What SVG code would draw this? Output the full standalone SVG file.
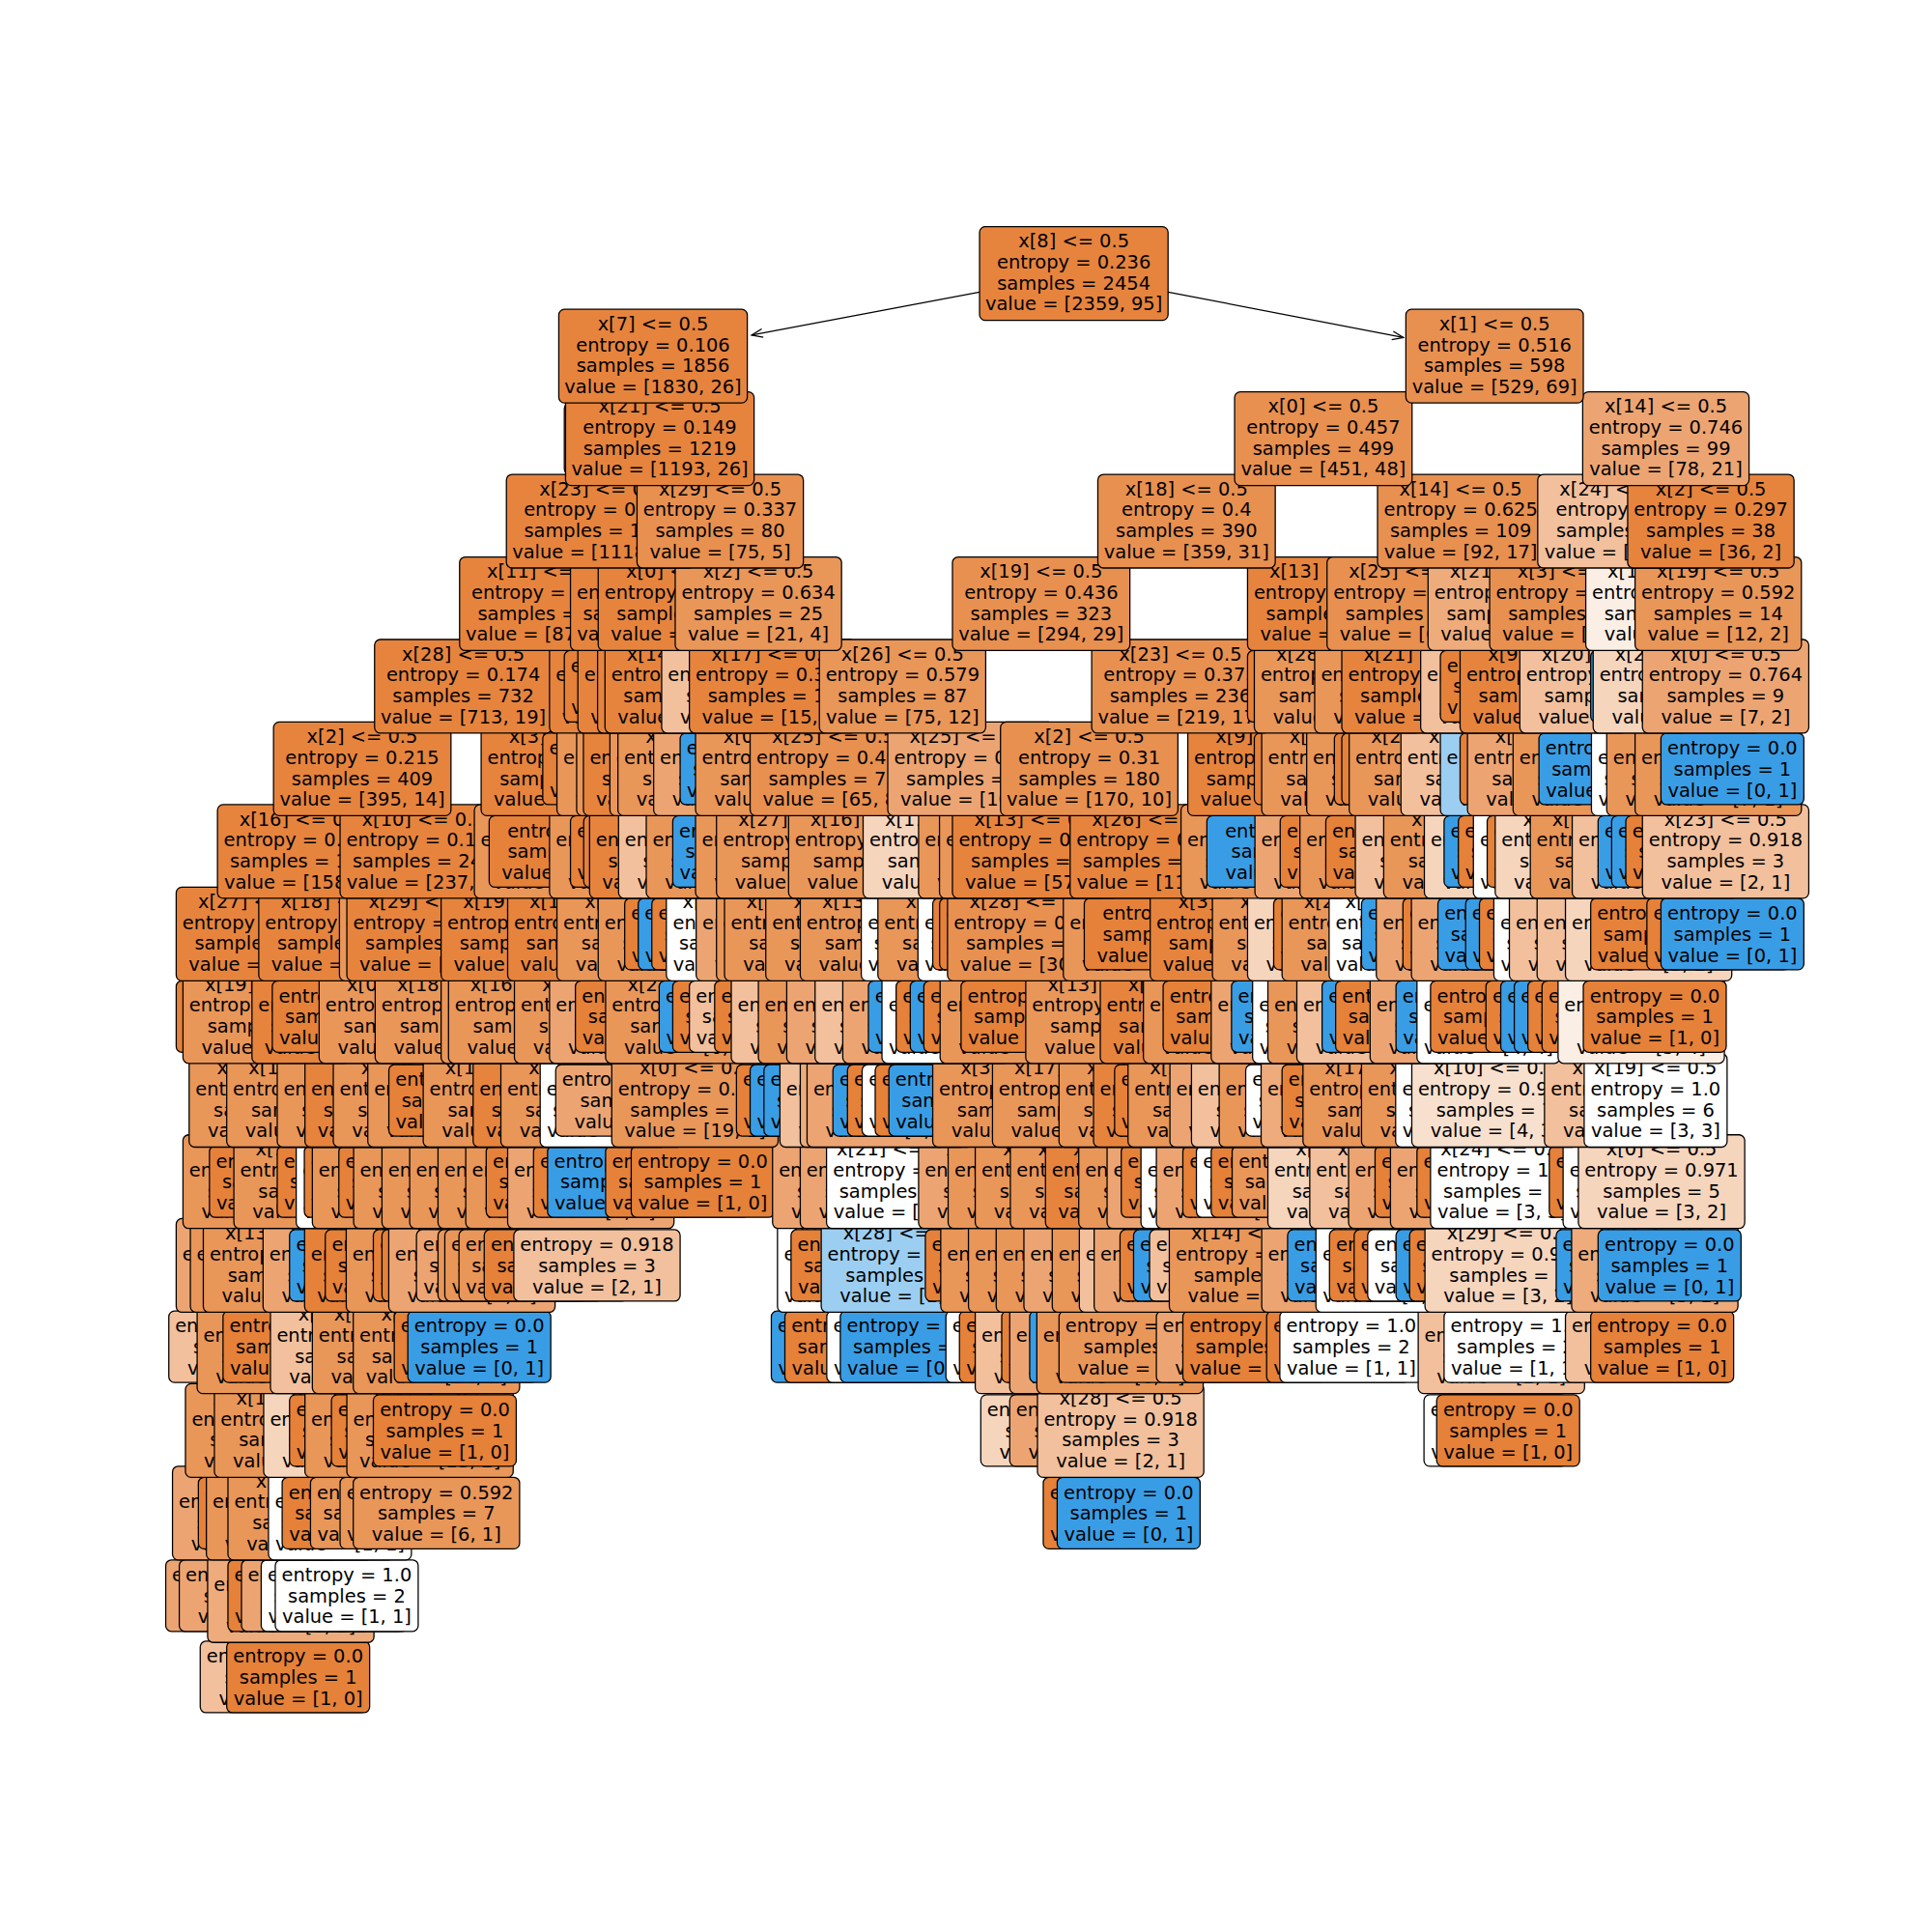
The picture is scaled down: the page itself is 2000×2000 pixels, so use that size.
<svg xmlns="http://www.w3.org/2000/svg" width="2000" height="2000" viewBox="0 0 2000 2000">
<style>
text{fill:#000;font-family:"DejaVu Sans",sans-serif;font-size:15.24px;text-anchor:middle}
rect{stroke:#000;stroke-width:1}
.o{fill:#e58139}.n{fill:#e6843e}.m{fill:#e89050}.q{fill:#e99659}.r{fill:#eca572}.s{fill:#eeab7b}.t{fill:#f2c09c}.u{fill:#f6d5bd}.v{fill:#f8e0ce}.z{fill:#fbeee4}.w{fill:#fff}.x{fill:#399de5}.y{fill:#9ccef2}
.c{fill:none;stroke:#000;stroke-width:1}
</style>
<defs>
<rect id="A" x="-67.5" y="-38" width="135" height="76" rx="4.6"/>
<rect id="B" x="-58" y="-29" width="116" height="58" rx="4.6"/>
<rect id="C" x="-67.5" y="-29" width="135" height="58" rx="4.6"/>
<rect id="D" x="-72" y="-38" width="144" height="76" rx="4.6"/>
<rect id="E" x="-76.5" y="-38" width="153" height="76" rx="4.6"/>
<rect id="G" x="-58" y="-38" width="116" height="76" rx="4.6"/>
<rect id="H" x="-72" y="-29" width="144" height="58" rx="4.6"/>
<marker id="h" markerWidth="12" markerHeight="10" refX="10" refY="4" orient="auto" markerUnits="userSpaceOnUse"><path d="M1 0.5L10 4L1 7.5" class="c"/></marker>
</defs>
<g transform="scale(1.27551)">
<g id="row17" transform="translate(0,1361)">
<g id="n17a" class="t" transform="translate(230)"><use href="#C"/><text y="-11.5">entropy = 0.918</text><text y="5.5">samples = 3</text><text y="22.5">value = [2, 1]</text></g>
<g id="n17b" class="o" transform="translate(242)"><use href="#B"/><text y="-11.5">entropy = 0.0</text><text y="5.5">samples = 1</text><text y="22.5">value = [1, 0]</text></g>
</g>
<g id="row16" transform="translate(0,1295)">
<g id="n16a" class="r" transform="translate(202)"><use href="#C"/><text y="-11.5">entropy = 0.764</text><text y="5.5">samples = 9</text><text y="22.5">value = [7, 2]</text></g>
<g id="n16b" class="r" transform="translate(213)"><use href="#C"/><text y="-11.5">entropy = 0.764</text><text y="5.5">samples = 9</text><text y="22.5">value = [7, 2]</text></g>
<g id="n16c" class="s" transform="translate(236)"><use href="#A"/><text y="-21">x[4] &lt;= 0.5</text><text y="-4">entropy = 0.811</text><text y="13">samples = 8</text><text y="30">value = [6, 2]</text></g>
<g id="n16d" class="o" transform="translate(243)"><use href="#B"/><text y="-11.5">entropy = 0.0</text><text y="5.5">samples = 1</text><text y="22.5">value = [1, 0]</text></g>
<g id="n16e" class="r" transform="translate(263.5)"><use href="#C"/><text y="-11.5">entropy = 0.764</text><text y="5.5">samples = 9</text><text y="22.5">value = [7, 2]</text></g>
<g id="n16f" class="w" transform="translate(270)"><use href="#B"/><text y="-11.5">entropy = 1.0</text><text y="5.5">samples = 2</text><text y="22.5">value = [1, 1]</text></g>
<g id="n16g" class="w" transform="translate(281.4)"><use href="#B"/><text y="-11.5">entropy = 1.0</text><text y="5.5">samples = 2</text><text y="22.5">value = [1, 1]</text></g>
</g>
<g id="row15" transform="translate(0,1228)">
<g id="n15a" class="r" transform="translate(207.5)"><use href="#A"/><text y="-21">x[5] &lt;= 0.5</text><text y="-4">entropy = 0.764</text><text y="13">samples = 9</text><text y="30">value = [7, 2]</text></g>
<g id="n15b" class="o" transform="translate(219)"><use href="#B"/><text y="-11.5">entropy = 0.0</text><text y="5.5">samples = 1</text><text y="22.5">value = [1, 0]</text></g>
<g id="n15c" class="q" transform="translate(235)"><use href="#A"/><text y="-21">x[6] &lt;= 0.5</text><text y="-4">entropy = 0.592</text><text y="13">samples = 7</text><text y="30">value = [6, 1]</text></g>
<g id="n15d" class="q" transform="translate(252.5)"><use href="#A"/><text y="-21">x[9] &lt;= 0.5</text><text y="-4">entropy = 0.592</text><text y="13">samples = 7</text><text y="30">value = [6, 1]</text></g>
<g id="n15e" class="w" transform="translate(275.9)"><use href="#G"/><text y="-21">x[3] &lt;= 0.5</text><text y="-4">entropy = 1.0</text><text y="13">samples = 2</text><text y="30">value = [1, 1]</text></g>
<g id="n15f" class="o" transform="translate(287)"><use href="#B"/><text y="-11.5">entropy = 0.0</text><text y="5.5">samples = 1</text><text y="22.5">value = [1, 0]</text></g>
<g id="n15g" class="q" transform="translate(310)"><use href="#B"/><text y="-11.5">entropy = 0.0</text><text y="5.5">samples = 1</text><text y="22.5">value = [1, 0]</text></g>
<g id="n15h" class="q" transform="translate(334)"><use href="#B"/><text y="-11.5">entropy = 0.0</text><text y="5.5">samples = 1</text><text y="22.5">value = [1, 0]</text></g>
<g id="n15i" class="q" transform="translate(354.2)"><use href="#C"/><text y="-11.5">entropy = 0.592</text><text y="5.5">samples = 7</text><text y="22.5">value = [6, 1]</text></g>
<g id="n15j" class="o" transform="translate(904.7)"><use href="#B"/><text y="-11.5">entropy = 0.0</text><text y="5.5">samples = 1</text><text y="22.5">value = [1, 0]</text></g>
<g id="n15k" class="x" transform="translate(916)"><use href="#B"/><text y="-11.5">entropy = 0.0</text><text y="5.5">samples = 1</text><text y="22.5">value = [0, 1]</text></g>
</g>
<g id="row14" transform="translate(0,1161)">
<g id="n14a" class="q" transform="translate(218)"><use href="#A"/><text y="-21">x[2] &lt;= 0.5</text><text y="-4">entropy = 0.592</text><text y="13">samples = 7</text><text y="30">value = [6, 1]</text></g>
<g id="n14b" class="q" transform="translate(241.5)"><use href="#A"/><text y="-21">x[12] &lt;= 0.5</text><text y="-4">entropy = 0.592</text><text y="13">samples = 7</text><text y="30">value = [6, 1]</text></g>
<g id="n14c" class="u" transform="translate(281.5)"><use href="#A"/><text y="-21">x[7] &lt;= 0.5</text><text y="-4">entropy = 0.971</text><text y="13">samples = 5</text><text y="30">value = [3, 2]</text></g>
<g id="n14d" class="o" transform="translate(293)"><use href="#B"/><text y="-11.5">entropy = 0.0</text><text y="5.5">samples = 1</text><text y="22.5">value = [1, 0]</text></g>
<g id="n14e" class="q" transform="translate(315)"><use href="#A"/><text y="-21">x[3] &lt;= 0.5</text><text y="-4">entropy = 0.592</text><text y="13">samples = 7</text><text y="30">value = [6, 1]</text></g>
<g id="n14f" class="o" transform="translate(327)"><use href="#B"/><text y="-11.5">entropy = 0.0</text><text y="5.5">samples = 1</text><text y="22.5">value = [1, 0]</text></g>
<g id="n14g" class="q" transform="translate(349)"><use href="#A"/><text y="-21">x[4] &lt;= 0.5</text><text y="-4">entropy = 0.567</text><text y="13">samples = 15</text><text y="30">value = [13, 2]</text></g>
<g id="n14h" class="o" transform="translate(361)"><use href="#B"/><text y="-11.5">entropy = 0.0</text><text y="5.5">samples = 1</text><text y="22.5">value = [1, 0]</text></g>
<g id="n14i" class="u" transform="translate(863.5)"><use href="#C"/><text y="-11.5">entropy = 0.971</text><text y="5.5">samples = 5</text><text y="22.5">value = [3, 2]</text></g>
<g id="n14j" class="r" transform="translate(887)"><use href="#C"/><text y="-11.5">entropy = 0.764</text><text y="5.5">samples = 9</text><text y="22.5">value = [7, 2]</text></g>
<g id="n14k" class="t" transform="translate(909.5)"><use href="#A"/><text y="-21">x[28] &lt;= 0.5</text><text y="-4">entropy = 0.918</text><text y="13">samples = 3</text><text y="30">value = [2, 1]</text></g>
<g id="n14l" class="w" transform="translate(1213.7)"><use href="#B"/><text y="-11.5">entropy = 1.0</text><text y="5.5">samples = 2</text><text y="22.5">value = [1, 1]</text></g>
<g id="n14m" class="o" transform="translate(1224)"><use href="#B"/><text y="-11.5">entropy = 0.0</text><text y="5.5">samples = 1</text><text y="22.5">value = [1, 0]</text></g>
</g>
<g id="row13" transform="translate(0,1093)">
<g id="n13a" class="t" transform="translate(204.5)"><use href="#C"/><text y="-11.5">entropy = 0.918</text><text y="5.5">samples = 3</text><text y="22.5">value = [2, 1]</text></g>
<g id="n13b" class="q" transform="translate(227.5)"><use href="#A"/><text y="-21">x[6] &lt;= 0.5</text><text y="-4">entropy = 0.592</text><text y="13">samples = 7</text><text y="30">value = [6, 1]</text></g>
<g id="n13c" class="o" transform="translate(239)"><use href="#B"/><text y="-11.5">entropy = 0.0</text><text y="5.5">samples = 1</text><text y="22.5">value = [1, 0]</text></g>
<g id="n13d" class="t" transform="translate(287)"><use href="#A"/><text y="-21">x[9] &lt;= 0.5</text><text y="-4">entropy = 0.918</text><text y="13">samples = 3</text><text y="30">value = [2, 1]</text></g>
<g id="n13e" class="q" transform="translate(321)"><use href="#A"/><text y="-21">x[11] &lt;= 0.5</text><text y="-4">entropy = 0.592</text><text y="13">samples = 7</text><text y="30">value = [6, 1]</text></g>
<g id="n13f" class="q" transform="translate(354.2)"><use href="#A"/><text y="-21">x[5] &lt;= 0.5</text><text y="-4">entropy = 0.353</text><text y="13">samples = 15</text><text y="30">value = [14, 1]</text></g>
<g id="n13g" class="o" transform="translate(378)"><use href="#B"/><text y="-11.5">entropy = 0.0</text><text y="5.5">samples = 1</text><text y="22.5">value = [1, 0]</text></g>
<g id="n13h" class="x" transform="translate(389)"><use href="#B"/><text y="-11.5">entropy = 0.0</text><text y="5.5">samples = 1</text><text y="22.5">value = [0, 1]</text></g>
<g id="n13i" class="x" transform="translate(684)"><use href="#B"/><text y="-11.5">entropy = 0.0</text><text y="5.5">samples = 1</text><text y="22.5">value = [0, 1]</text></g>
<g id="n13j" class="o" transform="translate(695)"><use href="#B"/><text y="-11.5">entropy = 0.0</text><text y="5.5">samples = 1</text><text y="22.5">value = [1, 0]</text></g>
<g id="n13k" class="w" transform="translate(729)"><use href="#B"/><text y="-11.5">entropy = 1.0</text><text y="5.5">samples = 2</text><text y="22.5">value = [1, 1]</text></g>
<g id="n13l" class="x" transform="translate(740)"><use href="#B"/><text y="-11.5">entropy = 0.0</text><text y="5.5">samples = 1</text><text y="22.5">value = [0, 1]</text></g>
<g id="n13m" class="w" transform="translate(825.7)"><use href="#B"/><text y="-11.5">entropy = 1.0</text><text y="5.5">samples = 2</text><text y="22.5">value = [1, 1]</text></g>
<g id="n13n" class="o" transform="translate(836.7)"><use href="#B"/><text y="-11.5">entropy = 0.0</text><text y="5.5">samples = 1</text><text y="22.5">value = [1, 0]</text></g>
<g id="n13o" class="t" transform="translate(859)"><use href="#A"/><text y="-21">x[1] &lt;= 0.5</text><text y="-4">entropy = 0.918</text><text y="13">samples = 3</text><text y="30">value = [2, 1]</text></g>
<g id="n13p" class="o" transform="translate(871)"><use href="#B"/><text y="-11.5">entropy = 0.0</text><text y="5.5">samples = 1</text><text y="22.5">value = [1, 0]</text></g>
<g id="n13q" class="r" transform="translate(887)"><use href="#A"/><text y="-21">x[2] &lt;= 0.5</text><text y="-4">entropy = 0.764</text><text y="13">samples = 9</text><text y="30">value = [7, 2]</text></g>
<g id="n13r" class="x" transform="translate(893.7)"><use href="#B"/><text y="-11.5">entropy = 0.0</text><text y="5.5">samples = 1</text><text y="22.5">value = [0, 1]</text></g>
<g id="n13s" class="q" transform="translate(909)"><use href="#A"/><text y="-21">x[3] &lt;= 0.5</text><text y="-4">entropy = 0.592</text><text y="13">samples = 7</text><text y="30">value = [6, 1]</text></g>
<g id="n13t" class="q" transform="translate(927)"><use href="#C"/><text y="-11.5">entropy = 0.592</text><text y="5.5">samples = 7</text><text y="22.5">value = [6, 1]</text></g>
<g id="n13u" class="r" transform="translate(1006)"><use href="#C"/><text y="-11.5">entropy = 0.764</text><text y="5.5">samples = 9</text><text y="22.5">value = [7, 2]</text></g>
<g id="n13v" class="o" transform="translate(1018)"><use href="#B"/><text y="-11.5">entropy = 0.0</text><text y="5.5">samples = 1</text><text y="22.5">value = [1, 0]</text></g>
<g id="n13w" class="o" transform="translate(1086)"><use href="#B"/><text y="-11.5">entropy = 0.0</text><text y="5.5">samples = 1</text><text y="22.5">value = [1, 0]</text></g>
<g id="n13x" class="w" transform="translate(1096.7)"><use href="#B"/><text y="-11.5">entropy = 1.0</text><text y="5.5">samples = 2</text><text y="22.5">value = [1, 1]</text></g>
<g id="n13y" class="t" transform="translate(1218.5)"><use href="#A"/><text y="-21">x[8] &lt;= 0.5</text><text y="-4">entropy = 0.918</text><text y="13">samples = 3</text><text y="30">value = [2, 1]</text></g>
<g id="n13z" class="w" transform="translate(1230)"><use href="#B"/><text y="-11.5">entropy = 1.0</text><text y="5.5">samples = 2</text><text y="22.5">value = [1, 1]</text></g>
<g id="n13aa" class="t" transform="translate(1338)"><use href="#C"/><text y="-11.5">entropy = 0.918</text><text y="5.5">samples = 3</text><text y="22.5">value = [2, 1]</text></g>
<g id="n13ab" class="o" transform="translate(1349)"><use href="#B"/><text y="-11.5">entropy = 0.0</text><text y="5.5">samples = 1</text><text y="22.5">value = [1, 0]</text></g>
</g>
<g id="row12" transform="translate(0,1027)">
<g id="n12a" class="r" transform="translate(210.5)"><use href="#A"/><text y="-21">x[3] &lt;= 0.5</text><text y="-4">entropy = 0.764</text><text y="13">samples = 9</text><text y="30">value = [7, 2]</text></g>
<g id="n12b" class="q" transform="translate(222)"><use href="#A"/><text y="-21">x[6] &lt;= 0.5</text><text y="-4">entropy = 0.592</text><text y="13">samples = 7</text><text y="30">value = [6, 1]</text></g>
<g id="n12c" class="q" transform="translate(232.5)"><use href="#A"/><text y="-21">x[13] &lt;= 0.5</text><text y="-4">entropy = 0.592</text><text y="13">samples = 7</text><text y="30">value = [6, 1]</text></g>
<g id="n12d" class="r" transform="translate(281)"><use href="#A"/><text y="-21">x[4] &lt;= 0.5</text><text y="-4">entropy = 0.764</text><text y="13">samples = 9</text><text y="30">value = [7, 2]</text></g>
<g id="n12e" class="x" transform="translate(293)"><use href="#B"/><text y="-11.5">entropy = 0.0</text><text y="5.5">samples = 1</text><text y="22.5">value = [0, 1]</text></g>
<g id="n12f" class="o" transform="translate(314.7)"><use href="#A"/><text y="-21">x[2] &lt;= 0.5</text><text y="-4">entropy = 0.337</text><text y="13">samples = 16</text><text y="30">value = [15, 1]</text></g>
<g id="n12g" class="o" transform="translate(322)"><use href="#B"/><text y="-11.5">entropy = 0.0</text><text y="5.5">samples = 1</text><text y="22.5">value = [1, 0]</text></g>
<g id="n12h" class="q" transform="translate(348.5)"><use href="#A"/><text y="-21">x[7] &lt;= 0.5</text><text y="-4">entropy = 0.592</text><text y="13">samples = 7</text><text y="30">value = [6, 1]</text></g>
<g id="n12i" class="o" transform="translate(361)"><use href="#B"/><text y="-11.5">entropy = 0.0</text><text y="5.5">samples = 1</text><text y="22.5">value = [1, 0]</text></g>
<g id="n12j" class="o" transform="translate(368)"><use href="#B"/><text y="-11.5">entropy = 0.0</text><text y="5.5">samples = 1</text><text y="22.5">value = [1, 0]</text></g>
<g id="n12k" class="r" transform="translate(383)"><use href="#A"/><text y="-21">x[9] &lt;= 0.5</text><text y="-4">entropy = 0.544</text><text y="13">samples = 8</text><text y="30">value = [7, 1]</text></g>
<g id="n12l" class="r" transform="translate(396)"><use href="#B"/><text y="-11.5">entropy = 0.0</text><text y="5.5">samples = 1</text><text y="22.5">value = [1, 0]</text></g>
<g id="n12m" class="q" transform="translate(413.5)"><use href="#B"/><text y="-11.5">entropy = 0.0</text><text y="5.5">samples = 1</text><text y="22.5">value = [1, 0]</text></g>
<g id="n12n" class="q" transform="translate(419)"><use href="#B"/><text y="-11.5">entropy = 0.0</text><text y="5.5">samples = 1</text><text y="22.5">value = [1, 0]</text></g>
<g id="n12o" class="q" transform="translate(430.5)"><use href="#B"/><text y="-11.5">entropy = 0.0</text><text y="5.5">samples = 1</text><text y="22.5">value = [1, 0]</text></g>
<g id="n12p" class="o" transform="translate(451)"><use href="#B"/><text y="-11.5">entropy = 0.0</text><text y="5.5">samples = 1</text><text y="22.5">value = [1, 0]</text></g>
<g id="n12q" class="t" transform="translate(484.5)"><use href="#C"/><text y="-11.5">entropy = 0.918</text><text y="5.5">samples = 3</text><text y="22.5">value = [2, 1]</text></g>
<g id="n12r" class="w" transform="translate(689)"><use href="#G"/><text y="-21">x[5] &lt;= 0.5</text><text y="-4">entropy = 1.0</text><text y="13">samples = 2</text><text y="30">value = [1, 1]</text></g>
<g id="n12s" class="o" transform="translate(700)"><use href="#B"/><text y="-11.5">entropy = 0.0</text><text y="5.5">samples = 1</text><text y="22.5">value = [1, 0]</text></g>
<g id="n12t" class="y" transform="translate(734)"><use href="#A"/><text y="-21">x[28] &lt;= 0.5</text><text y="-4">entropy = 0.918</text><text y="13">samples = 3</text><text y="30">value = [1, 2]</text></g>
<g id="n12u" class="o" transform="translate(809)"><use href="#B"/><text y="-11.5">entropy = 0.0</text><text y="5.5">samples = 1</text><text y="22.5">value = [1, 0]</text></g>
<g id="n12v" class="q" transform="translate(831)"><use href="#A"/><text y="-21">x[2] &lt;= 0.5</text><text y="-4">entropy = 0.592</text><text y="13">samples = 7</text><text y="30">value = [6, 1]</text></g>
<g id="n12w" class="q" transform="translate(853.5)"><use href="#A"/><text y="-21">x[3] &lt;= 0.5</text><text y="-4">entropy = 0.592</text><text y="13">samples = 7</text><text y="30">value = [6, 1]</text></g>
<g id="n12x" class="q" transform="translate(876)"><use href="#A"/><text y="-21">x[4] &lt;= 0.5</text><text y="-4">entropy = 0.592</text><text y="13">samples = 7</text><text y="30">value = [6, 1]</text></g>
<g id="n12y" class="r" transform="translate(898.5)"><use href="#A"/><text y="-21">x[5] &lt;= 0.5</text><text y="-4">entropy = 0.764</text><text y="13">samples = 9</text><text y="30">value = [7, 2]</text></g>
<g id="n12z" class="q" transform="translate(921.5)"><use href="#A"/><text y="-21">x[6] &lt;= 0.5</text><text y="-4">entropy = 0.592</text><text y="13">samples = 7</text><text y="30">value = [6, 1]</text></g>
<g id="n12aa" class="t" transform="translate(943.5)"><use href="#A"/><text y="-21">x[7] &lt;= 0.5</text><text y="-4">entropy = 0.918</text><text y="13">samples = 3</text><text y="30">value = [2, 1]</text></g>
<g id="n12ab" class="r" transform="translate(955.5)"><use href="#A"/><text y="-21">x[9] &lt;= 0.5</text><text y="-4">entropy = 0.764</text><text y="13">samples = 9</text><text y="30">value = [7, 2]</text></g>
<g id="n12ac" class="o" transform="translate(967)"><use href="#B"/><text y="-11.5">entropy = 0.0</text><text y="5.5">samples = 1</text><text y="22.5">value = [1, 0]</text></g>
<g id="n12ad" class="x" transform="translate(978)"><use href="#B"/><text y="-11.5">entropy = 0.0</text><text y="5.5">samples = 1</text><text y="22.5">value = [0, 1]</text></g>
<g id="n12ae" class="t" transform="translate(991)"><use href="#B"/><text y="-11.5">entropy = 0.0</text><text y="5.5">samples = 3</text><text y="22.5">value = [2, 1]</text></g>
<g id="n12af" class="q" transform="translate(1016.5)"><use href="#A"/><text y="-21">x[14] &lt;= 0.5</text><text y="-4">entropy = 0.592</text><text y="13">samples = 7</text><text y="30">value = [6, 1]</text></g>
<g id="n12ag" class="r" transform="translate(1091.5)"><use href="#A"/><text y="-21">x[1] &lt;= 0.5</text><text y="-4">entropy = 0.764</text><text y="13">samples = 9</text><text y="30">value = [7, 2]</text></g>
<g id="n12ah" class="x" transform="translate(1103)"><use href="#B"/><text y="-11.5">entropy = 0.0</text><text y="5.5">samples = 1</text><text y="22.5">value = [0, 1]</text></g>
<g id="n12ai" class="w" transform="translate(1126)"><use href="#G"/><text y="-21">x[4] &lt;= 0.5</text><text y="-4">entropy = 1.0</text><text y="13">samples = 2</text><text y="30">value = [1, 1]</text></g>
<g id="n12aj" class="o" transform="translate(1137)"><use href="#B"/><text y="-11.5">entropy = 0.0</text><text y="5.5">samples = 1</text><text y="22.5">value = [1, 0]</text></g>
<g id="n12ak" class="o" transform="translate(1157)"><use href="#B"/><text y="-11.5">entropy = 0.0</text><text y="5.5">samples = 1</text><text y="22.5">value = [1, 0]</text></g>
<g id="n12al" class="w" transform="translate(1168)"><use href="#B"/><text y="-11.5">entropy = 1.0</text><text y="5.5">samples = 2</text><text y="22.5">value = [1, 1]</text></g>
<g id="n12am" class="x" transform="translate(1191)"><use href="#B"/><text y="-11.5">entropy = 0.0</text><text y="5.5">samples = 1</text><text y="22.5">value = [0, 1]</text></g>
<g id="n12an" class="o" transform="translate(1202)"><use href="#B"/><text y="-11.5">entropy = 0.0</text><text y="5.5">samples = 1</text><text y="22.5">value = [1, 0]</text></g>
<g id="n12ao" class="u" transform="translate(1224)"><use href="#A"/><text y="-21">x[29] &lt;= 0.5</text><text y="-4">entropy = 0.971</text><text y="13">samples = 5</text><text y="30">value = [3, 2]</text></g>
<g id="n12ap" class="x" transform="translate(1321)"><use href="#B"/><text y="-11.5">entropy = 0.0</text><text y="5.5">samples = 1</text><text y="22.5">value = [0, 1]</text></g>
<g id="n12aq" class="s" transform="translate(1343)"><use href="#A"/><text y="-21">x[1] &lt;= 0.5</text><text y="-4">entropy = 0.811</text><text y="13">samples = 4</text><text y="30">value = [3, 1]</text></g>
<g id="n12ar" class="x" transform="translate(1355)"><use href="#B"/><text y="-11.5">entropy = 0.0</text><text y="5.5">samples = 1</text><text y="22.5">value = [0, 1]</text></g>
</g>
<g id="row11" transform="translate(0,959)">
<g id="n11a" class="q" transform="translate(216)"><use href="#A"/><text y="-21">x[2] &lt;= 0.5</text><text y="-4">entropy = 0.592</text><text y="13">samples = 7</text><text y="30">value = [6, 1]</text></g>
<g id="n11b" class="o" transform="translate(228)"><use href="#B"/><text y="-11.5">entropy = 0.0</text><text y="5.5">samples = 1</text><text y="22.5">value = [1, 0]</text></g>
<g id="n11c" class="q" transform="translate(257.3)"><use href="#A"/><text y="-21">x[14] &lt;= 0.5</text><text y="-4">entropy = 0.592</text><text y="13">samples = 7</text><text y="30">value = [6, 1]</text></g>
<g id="n11d" class="o" transform="translate(283)"><use href="#B"/><text y="-11.5">entropy = 0.0</text><text y="5.5">samples = 1</text><text y="22.5">value = [1, 0]</text></g>
<g id="n11e" class="w" transform="translate(298.4)"><use href="#G"/><text y="-21">x[6] &lt;= 0.5</text><text y="-4">entropy = 1.0</text><text y="13">samples = 2</text><text y="30">value = [1, 1]</text></g>
<g id="n11f" class="o" transform="translate(305)"><use href="#B"/><text y="-11.5">entropy = 0.0</text><text y="5.5">samples = 1</text><text y="22.5">value = [1, 0]</text></g>
<g id="n11g" class="q" transform="translate(321)"><use href="#A"/><text y="-21">x[4] &lt;= 0.5</text><text y="-4">entropy = 0.592</text><text y="13">samples = 7</text><text y="30">value = [6, 1]</text></g>
<g id="n11h" class="o" transform="translate(333)"><use href="#B"/><text y="-11.5">entropy = 0.0</text><text y="5.5">samples = 1</text><text y="22.5">value = [1, 0]</text></g>
<g id="n11i" class="q" transform="translate(354.5)"><use href="#A"/><text y="-21">x[3] &lt;= 0.5</text><text y="-4">entropy = 0.592</text><text y="13">samples = 7</text><text y="30">value = [6, 1]</text></g>
<g id="n11j" class="q" transform="translate(377.5)"><use href="#A"/><text y="-21">x[5] &lt;= 0.5</text><text y="-4">entropy = 0.592</text><text y="13">samples = 7</text><text y="30">value = [6, 1]</text></g>
<g id="n11k" class="q" transform="translate(400)"><use href="#A"/><text y="-21">x[7] &lt;= 0.5</text><text y="-4">entropy = 0.592</text><text y="13">samples = 7</text><text y="30">value = [6, 1]</text></g>
<g id="n11l" class="q" transform="translate(423)"><use href="#A"/><text y="-21">x[9] &lt;= 0.5</text><text y="-4">entropy = 0.592</text><text y="13">samples = 7</text><text y="30">value = [6, 1]</text></g>
<g id="n11m" class="q" transform="translate(445.5)"><use href="#A"/><text y="-21">x[1] &lt;= 0.5</text><text y="-4">entropy = 0.592</text><text y="13">samples = 7</text><text y="30">value = [6, 1]</text></g>
<g id="n11n" class="o" transform="translate(452.6)"><use href="#B"/><text y="-11.5">entropy = 0.0</text><text y="5.5">samples = 1</text><text y="22.5">value = [1, 0]</text></g>
<g id="n11o" class="r" transform="translate(479.5)"><use href="#A"/><text y="-21">x[3] &lt;= 0.5</text><text y="-4">entropy = 0.764</text><text y="13">samples = 9</text><text y="30">value = [7, 2]</text></g>
<g id="n11p" class="o" transform="translate(491)"><use href="#B"/><text y="-11.5">entropy = 0.0</text><text y="5.5">samples = 1</text><text y="22.5">value = [1, 0]</text></g>
<g id="n11q" class="x" transform="translate(502.4)"><use href="#B"/><text y="-11.5">entropy = 0.0</text><text y="5.5">samples = 1</text><text y="22.5">value = [0, 1]</text></g>
<g id="n11r" class="o" transform="translate(549.5)"><use href="#B"/><text y="-11.5">entropy = 0.0</text><text y="5.5">samples = 1</text><text y="22.5">value = [1, 0]</text></g>
<g id="n11s" class="o" transform="translate(570.3)"><use href="#B"/><text y="-11.5">entropy = 0.0</text><text y="5.5">samples = 1</text><text y="22.5">value = [1, 0]</text></g>
<g id="n11t" class="r" transform="translate(694.5)"><use href="#A"/><text y="-21">x[9] &lt;= 0.5</text><text y="-4">entropy = 0.764</text><text y="13">samples = 9</text><text y="30">value = [7, 2]</text></g>
<g id="n11u" class="r" transform="translate(717)"><use href="#A"/><text y="-21">x[2] &lt;= 0.5</text><text y="-4">entropy = 0.764</text><text y="13">samples = 9</text><text y="30">value = [7, 2]</text></g>
<g id="n11v" class="w" transform="translate(728.8)"><use href="#G"/><text y="-21">x[21] &lt;= 0.5</text><text y="-4">entropy = 1.0</text><text y="13">samples = 4</text><text y="30">value = [2, 2]</text></g>
<g id="n11w" class="r" transform="translate(813)"><use href="#A"/><text y="-21">x[1] &lt;= 0.5</text><text y="-4">entropy = 0.764</text><text y="13">samples = 9</text><text y="30">value = [7, 2]</text></g>
<g id="n11x" class="q" transform="translate(837)"><use href="#A"/><text y="-21">x[3] &lt;= 0.5</text><text y="-4">entropy = 0.592</text><text y="13">samples = 7</text><text y="30">value = [6, 1]</text></g>
<g id="n11y" class="q" transform="translate(859)"><use href="#A"/><text y="-21">x[4] &lt;= 0.5</text><text y="-4">entropy = 0.592</text><text y="13">samples = 7</text><text y="30">value = [6, 1]</text></g>
<g id="n11z" class="q" transform="translate(887.5)"><use href="#A"/><text y="-21">x[5] &lt;= 0.5</text><text y="-4">entropy = 0.592</text><text y="13">samples = 7</text><text y="30">value = [6, 1]</text></g>
<g id="n11aa" class="n" transform="translate(916)"><use href="#A"/><text y="-21">x[6] &lt;= 0.5</text><text y="-4">entropy = 0.337</text><text y="13">samples = 16</text><text y="30">value = [15, 1]</text></g>
<g id="n11ab" class="q" transform="translate(943)"><use href="#A"/><text y="-21">x[7] &lt;= 0.5</text><text y="-4">entropy = 0.592</text><text y="13">samples = 7</text><text y="30">value = [6, 1]</text></g>
<g id="n11ac" class="r" transform="translate(966)"><use href="#A"/><text y="-21">x[9] &lt;= 0.5</text><text y="-4">entropy = 0.764</text><text y="13">samples = 9</text><text y="30">value = [7, 2]</text></g>
<g id="n11ad" class="o" transform="translate(968)"><use href="#B"/><text y="-11.5">entropy = 0.0</text><text y="5.5">samples = 1</text><text y="22.5">value = [1, 0]</text></g>
<g id="n11ae" class="w" transform="translate(984)"><use href="#G"/><text y="-21">x[1] &lt;= 0.5</text><text y="-4">entropy = 1.0</text><text y="13">samples = 2</text><text y="30">value = [1, 1]</text></g>
<g id="n11af" class="r" transform="translate(1006)"><use href="#A"/><text y="-21">x[2] &lt;= 0.5</text><text y="-4">entropy = 0.764</text><text y="13">samples = 9</text><text y="30">value = [7, 2]</text></g>
<g id="n11ag" class="o" transform="translate(1018)"><use href="#B"/><text y="-11.5">entropy = 0.0</text><text y="5.5">samples = 1</text><text y="22.5">value = [1, 0]</text></g>
<g id="n11ah" class="w" transform="translate(1029)"><use href="#B"/><text y="-11.5">entropy = 1.0</text><text y="5.5">samples = 2</text><text y="22.5">value = [1, 1]</text></g>
<g id="n11ai" class="o" transform="translate(1041)"><use href="#B"/><text y="-11.5">entropy = 0.0</text><text y="5.5">samples = 1</text><text y="22.5">value = [1, 0]</text></g>
<g id="n11aj" class="q" transform="translate(1058)"><use href="#B"/><text y="-11.5">entropy = 0.0</text><text y="5.5">samples = 1</text><text y="22.5">value = [1, 0]</text></g>
<g id="n11ak" class="u" transform="translate(1096.5)"><use href="#A"/><text y="-21">x[3] &lt;= 0.5</text><text y="-4">entropy = 0.971</text><text y="13">samples = 5</text><text y="30">value = [3, 2]</text></g>
<g id="n11al" class="t" transform="translate(1130.5)"><use href="#A"/><text y="-21">x[4] &lt;= 0.5</text><text y="-4">entropy = 0.918</text><text y="13">samples = 3</text><text y="30">value = [2, 1]</text></g>
<g id="n11am" class="r" transform="translate(1162)"><use href="#A"/><text y="-21">x[5] &lt;= 0.5</text><text y="-4">entropy = 0.764</text><text y="13">samples = 9</text><text y="30">value = [7, 2]</text></g>
<g id="n11an" class="o" transform="translate(1174)"><use href="#B"/><text y="-11.5">entropy = 0.0</text><text y="5.5">samples = 1</text><text y="22.5">value = [1, 0]</text></g>
<g id="n11ao" class="r" transform="translate(1196)"><use href="#A"/><text y="-21">x[6] &lt;= 0.5</text><text y="-4">entropy = 0.764</text><text y="13">samples = 9</text><text y="30">value = [7, 2]</text></g>
<g id="n11ap" class="o" transform="translate(1208)"><use href="#B"/><text y="-11.5">entropy = 0.0</text><text y="5.5">samples = 1</text><text y="22.5">value = [1, 0]</text></g>
<g id="n11aq" class="w" transform="translate(1219)"><use href="#G"/><text y="-21">x[24] &lt;= 0.5</text><text y="-4">entropy = 1.0</text><text y="13">samples = 6</text><text y="30">value = [3, 3]</text></g>
<g id="n11ar" class="o" transform="translate(1315.4)"><use href="#B"/><text y="-11.5">entropy = 0.0</text><text y="5.5">samples = 1</text><text y="22.5">value = [1, 0]</text></g>
<g id="n11as" class="w" transform="translate(1326.6)"><use href="#G"/><text y="-21">x[7] &lt;= 0.5</text><text y="-4">entropy = 1.0</text><text y="13">samples = 2</text><text y="30">value = [1, 1]</text></g>
<g id="n11at" class="u" transform="translate(1348.5)"><use href="#A"/><text y="-21">x[0] &lt;= 0.5</text><text y="-4">entropy = 0.971</text><text y="13">samples = 5</text><text y="30">value = [3, 2]</text></g>
</g>
<g id="row10" transform="translate(0,893)">
<g id="n10a" class="q" transform="translate(221)"><use href="#A"/><text y="-21">x[4] &lt;= 0.5</text><text y="-4">entropy = 0.592</text><text y="13">samples = 7</text><text y="30">value = [6, 1]</text></g>
<g id="n10b" class="q" transform="translate(251.5)"><use href="#A"/><text y="-21">x[15] &lt;= 0.5</text><text y="-4">entropy = 0.592</text><text y="13">samples = 7</text><text y="30">value = [6, 1]</text></g>
<g id="n10c" class="q" transform="translate(292.5)"><use href="#A"/><text y="-21">x[3] &lt;= 0.5</text><text y="-4">entropy = 0.592</text><text y="13">samples = 7</text><text y="30">value = [6, 1]</text></g>
<g id="n10d" class="n" transform="translate(315)"><use href="#A"/><text y="-21">x[5] &lt;= 0.5</text><text y="-4">entropy = 0.337</text><text y="13">samples = 16</text><text y="30">value = [15, 1]</text></g>
<g id="n10e" class="q" transform="translate(338)"><use href="#A"/><text y="-21">x[6] &lt;= 0.5</text><text y="-4">entropy = 0.592</text><text y="13">samples = 7</text><text y="30">value = [6, 1]</text></g>
<g id="n10f" class="q" transform="translate(366)"><use href="#A"/><text y="-21">x[7] &lt;= 0.5</text><text y="-4">entropy = 0.592</text><text y="13">samples = 7</text><text y="30">value = [6, 1]</text></g>
<g id="n10g" class="o" transform="translate(373.6)"><use href="#B"/><text y="-11.5">entropy = 0.0</text><text y="5.5">samples = 1</text><text y="22.5">value = [1, 0]</text></g>
<g id="n10h" class="q" transform="translate(411)"><use href="#A"/><text y="-21">x[11] &lt;= 0.5</text><text y="-4">entropy = 0.592</text><text y="13">samples = 7</text><text y="30">value = [6, 1]</text></g>
<g id="n10i" class="n" transform="translate(451.5)"><use href="#A"/><text y="-21">x[2] &lt;= 0.5</text><text y="-4">entropy = 0.337</text><text y="13">samples = 16</text><text y="30">value = [15, 1]</text></g>
<g id="n10j" class="q" transform="translate(474)"><use href="#A"/><text y="-21">x[9] &lt;= 0.5</text><text y="-4">entropy = 0.592</text><text y="13">samples = 7</text><text y="30">value = [6, 1]</text></g>
<g id="n10k" class="w" transform="translate(496.4)"><use href="#G"/><text y="-21">x[3] &lt;= 0.5</text><text y="-4">entropy = 1.0</text><text y="13">samples = 2</text><text y="30">value = [1, 1]</text></g>
<g id="n10l" class="r" transform="translate(518.5)"><use href="#C"/><text y="-11.5">entropy = 0.764</text><text y="5.5">samples = 9</text><text y="22.5">value = [7, 2]</text></g>
<g id="n10m" class="q" transform="translate(564)"><use href="#A"/><text y="-21">x[0] &lt;= 0.5</text><text y="-4">entropy = 0.286</text><text y="13">samples = 20</text><text y="30">value = [19, 1]</text></g>
<g id="n10n" class="o" transform="translate(655.7)"><use href="#B"/><text y="-11.5">entropy = 0.0</text><text y="5.5">samples = 1</text><text y="22.5">value = [1, 0]</text></g>
<g id="n10o" class="x" transform="translate(666.8)"><use href="#B"/><text y="-11.5">entropy = 0.0</text><text y="5.5">samples = 1</text><text y="22.5">value = [0, 1]</text></g>
<g id="n10p" class="x" transform="translate(678)"><use href="#B"/><text y="-11.5">entropy = 0.0</text><text y="5.5">samples = 1</text><text y="22.5">value = [0, 1]</text></g>
<g id="n10q" class="t" transform="translate(700.5)"><use href="#A"/><text y="-21">x[1] &lt;= 0.5</text><text y="-4">entropy = 0.918</text><text y="13">samples = 3</text><text y="30">value = [2, 1]</text></g>
<g id="n10r" class="s" transform="translate(717)"><use href="#A"/><text y="-21">x[2] &lt;= 0.5</text><text y="-4">entropy = 0.811</text><text y="13">samples = 4</text><text y="30">value = [3, 1]</text></g>
<g id="n10s" class="r" transform="translate(722.5)"><use href="#A"/><text y="-21">x[6] &lt;= 0.5</text><text y="-4">entropy = 0.764</text><text y="13">samples = 9</text><text y="30">value = [7, 2]</text></g>
<g id="n10t" class="x" transform="translate(734)"><use href="#B"/><text y="-11.5">entropy = 0.0</text><text y="5.5">samples = 1</text><text y="22.5">value = [0, 1]</text></g>
<g id="n10u" class="o" transform="translate(745.8)"><use href="#B"/><text y="-11.5">entropy = 0.0</text><text y="5.5">samples = 1</text><text y="22.5">value = [1, 0]</text></g>
<g id="n10v" class="w" transform="translate(757.7)"><use href="#B"/><text y="-11.5">entropy = 1.0</text><text y="5.5">samples = 2</text><text y="22.5">value = [1, 1]</text></g>
<g id="n10w" class="o" transform="translate(768.3)"><use href="#B"/><text y="-11.5">entropy = 0.0</text><text y="5.5">samples = 1</text><text y="22.5">value = [1, 0]</text></g>
<g id="n10x" class="x" transform="translate(779.4)"><use href="#B"/><text y="-11.5">entropy = 0.0</text><text y="5.5">samples = 1</text><text y="22.5">value = [0, 1]</text></g>
<g id="n10y" class="o" transform="translate(828)"><use href="#B"/><text y="-11.5">entropy = 0.0</text><text y="5.5">samples = 1</text><text y="22.5">value = [1, 0]</text></g>
<g id="n10z" class="q" transform="translate(824.5)"><use href="#A"/><text y="-21">x[3] &lt;= 0.5</text><text y="-4">entropy = 0.592</text><text y="13">samples = 7</text><text y="30">value = [6, 1]</text></g>
<g id="n10aa" class="q" transform="translate(873)"><use href="#A"/><text y="-21">x[17] &lt;= 0.5</text><text y="-4">entropy = 0.592</text><text y="13">samples = 7</text><text y="30">value = [6, 1]</text></g>
<g id="n10ab" class="q" transform="translate(927)"><use href="#A"/><text y="-21">x[1] &lt;= 0.5</text><text y="-4">entropy = 0.592</text><text y="13">samples = 7</text><text y="30">value = [6, 1]</text></g>
<g id="n10ac" class="n" transform="translate(955)"><use href="#A"/><text y="-21">x[2] &lt;= 0.5</text><text y="-4">entropy = 0.337</text><text y="13">samples = 16</text><text y="30">value = [15, 1]</text></g>
<g id="n10ad" class="o" transform="translate(962.6)"><use href="#B"/><text y="-11.5">entropy = 0.0</text><text y="5.5">samples = 1</text><text y="22.5">value = [1, 0]</text></g>
<g id="n10ae" class="q" transform="translate(983)"><use href="#A"/><text y="-21">x[24] &lt;= 0.5</text><text y="-4">entropy = 0.592</text><text y="13">samples = 7</text><text y="30">value = [6, 1]</text></g>
<g id="n10af" class="r" transform="translate(1017)"><use href="#A"/><text y="-21">x[3] &lt;= 0.5</text><text y="-4">entropy = 0.764</text><text y="13">samples = 9</text><text y="30">value = [7, 2]</text></g>
<g id="n10ag" class="t" transform="translate(1034.5)"><use href="#A"/><text y="-21">x[4] &lt;= 0.5</text><text y="-4">entropy = 0.918</text><text y="13">samples = 3</text><text y="30">value = [2, 1]</text></g>
<g id="n10ah" class="q" transform="translate(1057)"><use href="#A"/><text y="-21">x[5] &lt;= 0.5</text><text y="-4">entropy = 0.592</text><text y="13">samples = 7</text><text y="30">value = [6, 1]</text></g>
<g id="n10ai" class="w" transform="translate(1069)"><use href="#B"/><text y="-11.5">entropy = 1.0</text><text y="5.5">samples = 2</text><text y="22.5">value = [1, 1]</text></g>
<g id="n10aj" class="s" transform="translate(1091)"><use href="#A"/><text y="-21">x[6] &lt;= 0.5</text><text y="-4">entropy = 0.811</text><text y="13">samples = 4</text><text y="30">value = [3, 1]</text></g>
<g id="n10ak" class="o" transform="translate(1098.5)"><use href="#B"/><text y="-11.5">entropy = 0.0</text><text y="5.5">samples = 1</text><text y="22.5">value = [1, 0]</text></g>
<g id="n10al" class="q" transform="translate(1125)"><use href="#A"/><text y="-21">x[17] &lt;= 0.5</text><text y="-4">entropy = 0.592</text><text y="13">samples = 7</text><text y="30">value = [6, 1]</text></g>
<g id="n10am" class="q" transform="translate(1172.5)"><use href="#A"/><text y="-21">x[7] &lt;= 0.5</text><text y="-4">entropy = 0.592</text><text y="13">samples = 7</text><text y="30">value = [6, 1]</text></g>
<g id="n10an" class="w" transform="translate(1190.7)"><use href="#G"/><text y="-21">x[9] &lt;= 0.5</text><text y="-4">entropy = 1.0</text><text y="13">samples = 2</text><text y="30">value = [1, 1]</text></g>
<g id="n10ao" class="v" transform="translate(1213.3)"><use href="#A"/><text y="-21">x[10] &lt;= 0.5</text><text y="-4">entropy = 0.985</text><text y="13">samples = 7</text><text y="30">value = [4, 3]</text></g>
<g id="n10ap" class="t" transform="translate(1321)"><use href="#A"/><text y="-21">x[3] &lt;= 0.5</text><text y="-4">entropy = 0.918</text><text y="13">samples = 3</text><text y="30">value = [2, 1]</text></g>
<g id="n10aq" class="w" transform="translate(1343.7)"><use href="#G"/><text y="-21">x[19] &lt;= 0.5</text><text y="-4">entropy = 1.0</text><text y="13">samples = 6</text><text y="30">value = [3, 3]</text></g>
</g>
<g id="row9" transform="translate(0,825)">
<g id="n9a" class="o" transform="translate(201)"><use href="#B"/><text y="-11.5">entropy = 0.0</text><text y="5.5">samples = 1</text><text y="22.5">value = [1, 0]</text></g>
<g id="n9b" class="q" transform="translate(216)"><use href="#A"/><text y="-21">x[19] &lt;= 0.5</text><text y="-4">entropy = 0.592</text><text y="13">samples = 7</text><text y="30">value = [6, 1]</text></g>
<g id="n9c" class="n" transform="translate(272)"><use href="#A"/><text y="-21">x[3] &lt;= 0.5</text><text y="-4">entropy = 0.337</text><text y="13">samples = 16</text><text y="30">value = [15, 1]</text></g>
<g id="n9d" class="o" transform="translate(279)"><use href="#B"/><text y="-11.5">entropy = 0.0</text><text y="5.5">samples = 1</text><text y="22.5">value = [1, 0]</text></g>
<g id="n9e" class="q" transform="translate(326.5)"><use href="#A"/><text y="-21">x[0] &lt;= 0.5</text><text y="-4">entropy = 0.592</text><text y="13">samples = 7</text><text y="30">value = [6, 1]</text></g>
<g id="n9f" class="q" transform="translate(372)"><use href="#A"/><text y="-21">x[18] &lt;= 0.5</text><text y="-4">entropy = 0.592</text><text y="13">samples = 7</text><text y="30">value = [6, 1]</text></g>
<g id="n9g" class="q" transform="translate(425.5)"><use href="#A"/><text y="-21">x[4] &lt;= 0.5</text><text y="-4">entropy = 0.592</text><text y="13">samples = 7</text><text y="30">value = [6, 1]</text></g>
<g id="n9h" class="q" transform="translate(431.5)"><use href="#A"/><text y="-21">x[16] &lt;= 0.5</text><text y="-4">entropy = 0.592</text><text y="13">samples = 7</text><text y="30">value = [6, 1]</text></g>
<g id="n9i" class="q" transform="translate(485)"><use href="#A"/><text y="-21">x[5] &lt;= 0.5</text><text y="-4">entropy = 0.592</text><text y="13">samples = 7</text><text y="30">value = [6, 1]</text></g>
<g id="n9j" class="r" transform="translate(513.5)"><use href="#A"/><text y="-21">x[6] &lt;= 0.5</text><text y="-4">entropy = 0.764</text><text y="13">samples = 9</text><text y="30">value = [7, 2]</text></g>
<g id="n9k" class="o" transform="translate(525)"><use href="#B"/><text y="-11.5">entropy = 0.0</text><text y="5.5">samples = 1</text><text y="22.5">value = [1, 0]</text></g>
<g id="n9l" class="q" transform="translate(559)"><use href="#A"/><text y="-21">x[24] &lt;= 0.5</text><text y="-4">entropy = 0.592</text><text y="13">samples = 7</text><text y="30">value = [6, 1]</text></g>
<g id="n9m" class="x" transform="translate(593)"><use href="#B"/><text y="-11.5">entropy = 0.0</text><text y="5.5">samples = 1</text><text y="22.5">value = [0, 1]</text></g>
<g id="n9n" class="o" transform="translate(604)"><use href="#B"/><text y="-11.5">entropy = 0.0</text><text y="5.5">samples = 1</text><text y="22.5">value = [1, 0]</text></g>
<g id="n9o" class="t" transform="translate(617.5)"><use href="#B"/><text y="-11.5">entropy = 0.0</text><text y="5.5">samples = 3</text><text y="22.5">value = [2, 1]</text></g>
<g id="n9p" class="o" transform="translate(638)"><use href="#B"/><text y="-11.5">entropy = 0.0</text><text y="5.5">samples = 1</text><text y="22.5">value = [1, 0]</text></g>
<g id="n9q" class="t" transform="translate(661)"><use href="#A"/><text y="-21">x[7] &lt;= 0.5</text><text y="-4">entropy = 0.918</text><text y="13">samples = 3</text><text y="30">value = [2, 1]</text></g>
<g id="n9r" class="q" transform="translate(683)"><use href="#A"/><text y="-21">x[9] &lt;= 0.5</text><text y="-4">entropy = 0.592</text><text y="13">samples = 7</text><text y="30">value = [6, 1]</text></g>
<g id="n9s" class="r" transform="translate(706)"><use href="#A"/><text y="-21">x[1] &lt;= 0.5</text><text y="-4">entropy = 0.764</text><text y="13">samples = 9</text><text y="30">value = [7, 2]</text></g>
<g id="n9t" class="t" transform="translate(729)"><use href="#A"/><text y="-21">x[2] &lt;= 0.5</text><text y="-4">entropy = 0.918</text><text y="13">samples = 3</text><text y="30">value = [2, 1]</text></g>
<g id="n9u" class="r" transform="translate(751.5)"><use href="#A"/><text y="-21">x[3] &lt;= 0.5</text><text y="-4">entropy = 0.764</text><text y="13">samples = 9</text><text y="30">value = [7, 2]</text></g>
<g id="n9v" class="x" transform="translate(762.8)"><use href="#B"/><text y="-11.5">entropy = 0.0</text><text y="5.5">samples = 1</text><text y="22.5">value = [0, 1]</text></g>
<g id="n9w" class="w" transform="translate(773.8)"><use href="#G"/><text y="-21">x[4] &lt;= 0.5</text><text y="-4">entropy = 1.0</text><text y="13">samples = 2</text><text y="30">value = [1, 1]</text></g>
<g id="n9x" class="o" transform="translate(785.3)"><use href="#B"/><text y="-11.5">entropy = 0.0</text><text y="5.5">samples = 1</text><text y="22.5">value = [1, 0]</text></g>
<g id="n9y" class="x" transform="translate(796.8)"><use href="#B"/><text y="-11.5">entropy = 0.0</text><text y="5.5">samples = 1</text><text y="22.5">value = [0, 1]</text></g>
<g id="n9z" class="o" transform="translate(807.8)"><use href="#B"/><text y="-11.5">entropy = 0.0</text><text y="5.5">samples = 1</text><text y="22.5">value = [1, 0]</text></g>
<g id="n9aa" class="q" transform="translate(830.5)"><use href="#A"/><text y="-21">x[5] &lt;= 0.5</text><text y="-4">entropy = 0.592</text><text y="13">samples = 7</text><text y="30">value = [6, 1]</text></g>
<g id="n9ab" class="o" transform="translate(838)"><use href="#B"/><text y="-11.5">entropy = 0.0</text><text y="5.5">samples = 1</text><text y="22.5">value = [1, 0]</text></g>
<g id="n9ac" class="q" transform="translate(900)"><use href="#A"/><text y="-21">x[13] &lt;= 0.5</text><text y="-4">entropy = 0.592</text><text y="13">samples = 7</text><text y="30">value = [6, 1]</text></g>
<g id="n9ad" class="n" transform="translate(960.5)"><use href="#A"/><text y="-21">x[6] &lt;= 0.5</text><text y="-4">entropy = 0.337</text><text y="13">samples = 16</text><text y="30">value = [15, 1]</text></g>
<g id="n9ae" class="q" transform="translate(995.5)"><use href="#A"/><text y="-21">x[7] &lt;= 0.5</text><text y="-4">entropy = 0.592</text><text y="13">samples = 7</text><text y="30">value = [6, 1]</text></g>
<g id="n9af" class="o" transform="translate(1002)"><use href="#B"/><text y="-11.5">entropy = 0.0</text><text y="5.5">samples = 1</text><text y="22.5">value = [1, 0]</text></g>
<g id="n9ag" class="r" transform="translate(1050.5)"><use href="#A"/><text y="-21">x[9] &lt;= 0.5</text><text y="-4">entropy = 0.764</text><text y="13">samples = 9</text><text y="30">value = [7, 2]</text></g>
<g id="n9ah" class="x" transform="translate(1057.5)"><use href="#B"/><text y="-11.5">entropy = 0.0</text><text y="5.5">samples = 1</text><text y="22.5">value = [0, 1]</text></g>
<g id="n9ai" class="w" transform="translate(1074.6)"><use href="#G"/><text y="-21">x[1] &lt;= 0.5</text><text y="-4">entropy = 1.0</text><text y="13">samples = 2</text><text y="30">value = [1, 1]</text></g>
<g id="n9aj" class="q" transform="translate(1096.5)"><use href="#A"/><text y="-21">x[2] &lt;= 0.5</text><text y="-4">entropy = 0.592</text><text y="13">samples = 7</text><text y="30">value = [6, 1]</text></g>
<g id="n9ak" class="t" transform="translate(1120)"><use href="#A"/><text y="-21">x[3] &lt;= 0.5</text><text y="-4">entropy = 0.918</text><text y="13">samples = 3</text><text y="30">value = [2, 1]</text></g>
<g id="n9al" class="x" transform="translate(1131)"><use href="#B"/><text y="-11.5">entropy = 0.0</text><text y="5.5">samples = 1</text><text y="22.5">value = [0, 1]</text></g>
<g id="n9am" class="o" transform="translate(1142)"><use href="#B"/><text y="-11.5">entropy = 0.0</text><text y="5.5">samples = 1</text><text y="22.5">value = [1, 0]</text></g>
<g id="n9an" class="r" transform="translate(1179.5)"><use href="#A"/><text y="-21">x[4] &lt;= 0.5</text><text y="-4">entropy = 0.764</text><text y="13">samples = 9</text><text y="30">value = [7, 2]</text></g>
<g id="n9ao" class="x" transform="translate(1191)"><use href="#B"/><text y="-11.5">entropy = 0.0</text><text y="5.5">samples = 1</text><text y="22.5">value = [0, 1]</text></g>
<g id="n9ap" class="w" transform="translate(1208)"><use href="#G"/><text y="-21">x[5] &lt;= 0.5</text><text y="-4">entropy = 1.0</text><text y="13">samples = 8</text><text y="30">value = [4, 4]</text></g>
<g id="n9aq" class="o" transform="translate(1219)"><use href="#B"/><text y="-11.5">entropy = 0.0</text><text y="5.5">samples = 1</text><text y="22.5">value = [1, 0]</text></g>
<g id="n9ar" class="o" transform="translate(1264)"><use href="#B"/><text y="-11.5">entropy = 0.0</text><text y="5.5">samples = 1</text><text y="22.5">value = [1, 0]</text></g>
<g id="n9as" class="x" transform="translate(1276)"><use href="#B"/><text y="-11.5">entropy = 0.0</text><text y="5.5">samples = 1</text><text y="22.5">value = [0, 1]</text></g>
<g id="n9at" class="x" transform="translate(1287)"><use href="#B"/><text y="-11.5">entropy = 0.0</text><text y="5.5">samples = 1</text><text y="22.5">value = [0, 1]</text></g>
<g id="n9au" class="o" transform="translate(1298)"><use href="#B"/><text y="-11.5">entropy = 0.0</text><text y="5.5">samples = 1</text><text y="22.5">value = [1, 0]</text></g>
<g id="n9av" class="o" transform="translate(1309.5)"><use href="#B"/><text y="-11.5">entropy = 0.0</text><text y="5.5">samples = 1</text><text y="22.5">value = [1, 0]</text></g>
<g id="n9aw" class="z" transform="translate(1332)"><use href="#A"/><text y="-21">x[6] &lt;= 0.5</text><text y="-4">entropy = 0.991</text><text y="13">samples = 9</text><text y="30">value = [5, 4]</text></g>
<g id="n9ax" class="o" transform="translate(1343)"><use href="#B"/><text y="-11.5">entropy = 0.0</text><text y="5.5">samples = 1</text><text y="22.5">value = [1, 0]</text></g>
</g>
<g id="row8" transform="translate(0,758)">
<g id="n8a" class="n" transform="translate(210.5)"><use href="#A"/><text y="-21">x[27] &lt;= 0.5</text><text y="-4">entropy = 0.337</text><text y="13">samples = 16</text><text y="30">value = [15, 1]</text></g>
<g id="n8b" class="n" transform="translate(277.5)"><use href="#A"/><text y="-21">x[18] &lt;= 0.5</text><text y="-4">entropy = 0.337</text><text y="13">samples = 16</text><text y="30">value = [15, 1]</text></g>
<g id="n8c" class="q" transform="translate(343)"><use href="#A"/><text y="-21">x[4] &lt;= 0.5</text><text y="-4">entropy = 0.592</text><text y="13">samples = 7</text><text y="30">value = [6, 1]</text></g>
<g id="n8d" class="n" transform="translate(349)"><use href="#A"/><text y="-21">x[29] &lt;= 0.5</text><text y="-4">entropy = 0.337</text><text y="13">samples = 16</text><text y="30">value = [15, 1]</text></g>
<g id="n8e" class="n" transform="translate(425.5)"><use href="#A"/><text y="-21">x[19] &lt;= 0.5</text><text y="-4">entropy = 0.337</text><text y="13">samples = 16</text><text y="30">value = [15, 1]</text></g>
<g id="n8f" class="n" transform="translate(479.5)"><use href="#A"/><text y="-21">x[12] &lt;= 0.5</text><text y="-4">entropy = 0.337</text><text y="13">samples = 16</text><text y="30">value = [15, 1]</text></g>
<g id="n8g" class="q" transform="translate(519.5)"><use href="#A"/><text y="-21">x[5] &lt;= 0.5</text><text y="-4">entropy = 0.592</text><text y="13">samples = 7</text><text y="30">value = [6, 1]</text></g>
<g id="n8h" class="q" transform="translate(553)"><use href="#A"/><text y="-21">x[6] &lt;= 0.5</text><text y="-4">entropy = 0.592</text><text y="13">samples = 7</text><text y="30">value = [6, 1]</text></g>
<g id="n8i" class="o" transform="translate(565)"><use href="#B"/><text y="-11.5">entropy = 0.0</text><text y="5.5">samples = 1</text><text y="22.5">value = [1, 0]</text></g>
<g id="n8j" class="x" transform="translate(576)"><use href="#B"/><text y="-11.5">entropy = 0.0</text><text y="5.5">samples = 1</text><text y="22.5">value = [0, 1]</text></g>
<g id="n8k" class="o" transform="translate(587)"><use href="#B"/><text y="-11.5">entropy = 0.0</text><text y="5.5">samples = 1</text><text y="22.5">value = [1, 0]</text></g>
<g id="n8l" class="w" transform="translate(598.8)"><use href="#G"/><text y="-21">x[7] &lt;= 0.5</text><text y="-4">entropy = 1.0</text><text y="13">samples = 2</text><text y="30">value = [1, 1]</text></g>
<g id="n8m" class="r" transform="translate(632.5)"><use href="#A"/><text y="-21">x[9] &lt;= 0.5</text><text y="-4">entropy = 0.764</text><text y="13">samples = 9</text><text y="30">value = [7, 2]</text></g>
<g id="n8n" class="q" transform="translate(649)"><use href="#A"/><text y="-21">x[1] &lt;= 0.5</text><text y="-4">entropy = 0.592</text><text y="13">samples = 7</text><text y="30">value = [6, 1]</text></g>
<g id="n8o" class="q" transform="translate(655.5)"><use href="#A"/><text y="-21">x[11] &lt;= 0.5</text><text y="-4">entropy = 0.592</text><text y="13">samples = 7</text><text y="30">value = [6, 1]</text></g>
<g id="n8p" class="q" transform="translate(689)"><use href="#A"/><text y="-21">x[2] &lt;= 0.5</text><text y="-4">entropy = 0.592</text><text y="13">samples = 7</text><text y="30">value = [6, 1]</text></g>
<g id="n8q" class="q" transform="translate(717)"><use href="#A"/><text y="-21">x[13] &lt;= 0.5</text><text y="-4">entropy = 0.592</text><text y="13">samples = 7</text><text y="30">value = [6, 1]</text></g>
<g id="n8r" class="w" transform="translate(757)"><use href="#G"/><text y="-21">x[3] &lt;= 0.5</text><text y="-4">entropy = 1.0</text><text y="13">samples = 2</text><text y="30">value = [1, 1]</text></g>
<g id="n8s" class="q" transform="translate(780)"><use href="#A"/><text y="-21">x[4] &lt;= 0.5</text><text y="-4">entropy = 0.592</text><text y="13">samples = 7</text><text y="30">value = [6, 1]</text></g>
<g id="n8t" class="w" transform="translate(803)"><use href="#G"/><text y="-21">x[5] &lt;= 0.5</text><text y="-4">entropy = 1.0</text><text y="13">samples = 2</text><text y="30">value = [1, 1]</text></g>
<g id="n8u" class="o" transform="translate(815)"><use href="#B"/><text y="-11.5">entropy = 0.0</text><text y="5.5">samples = 1</text><text y="22.5">value = [1, 0]</text></g>
<g id="n8v" class="o" transform="translate(820.6)"><use href="#B"/><text y="-11.5">entropy = 0.0</text><text y="5.5">samples = 1</text><text y="22.5">value = [1, 0]</text></g>
<g id="n8w" class="m" transform="translate(836.5)"><use href="#A"/><text y="-21">x[28] &lt;= 0.5</text><text y="-4">entropy = 0.211</text><text y="13">samples = 30</text><text y="30">value = [30, 1]</text></g>
<g id="n8x" class="q" transform="translate(930.5)"><use href="#A"/><text y="-21">x[6] &lt;= 0.5</text><text y="-4">entropy = 0.592</text><text y="13">samples = 7</text><text y="30">value = [6, 1]</text></g>
<g id="n8y" class="o" transform="translate(947.5)"><use href="#C"/><text y="-11.5">entropy = 0.0</text><text y="5.5">samples = 11</text><text y="22.5">value = [11, 0]</text></g>
<g id="n8z" class="n" transform="translate(1001)"><use href="#A"/><text y="-21">x[3] &lt;= 0.5</text><text y="-4">entropy = 0.337</text><text y="13">samples = 16</text><text y="30">value = [15, 1]</text></g>
<g id="n8aa" class="q" transform="translate(1051.5)"><use href="#A"/><text y="-21">x[7] &lt;= 0.5</text><text y="-4">entropy = 0.592</text><text y="13">samples = 7</text><text y="30">value = [6, 1]</text></g>
<g id="n8ab" class="u" transform="translate(1080)"><use href="#A"/><text y="-21">x[9] &lt;= 0.5</text><text y="-4">entropy = 0.971</text><text y="13">samples = 5</text><text y="30">value = [3, 2]</text></g>
<g id="n8ac" class="o" transform="translate(1091.7)"><use href="#B"/><text y="-11.5">entropy = 0.0</text><text y="5.5">samples = 1</text><text y="22.5">value = [1, 0]</text></g>
<g id="n8ad" class="q" transform="translate(1108)"><use href="#A"/><text y="-21">x[24] &lt;= 0.5</text><text y="-4">entropy = 0.592</text><text y="13">samples = 7</text><text y="30">value = [6, 1]</text></g>
<g id="n8ae" class="w" transform="translate(1136.7)"><use href="#G"/><text y="-21">x[1] &lt;= 0.5</text><text y="-4">entropy = 1.0</text><text y="13">samples = 2</text><text y="30">value = [1, 1]</text></g>
<g id="n8af" class="x" transform="translate(1163)"><use href="#B"/><text y="-11.5">entropy = 0.0</text><text y="5.5">samples = 1</text><text y="22.5">value = [0, 1]</text></g>
<g id="n8ag" class="r" transform="translate(1184.5)"><use href="#A"/><text y="-21">x[2] &lt;= 0.5</text><text y="-4">entropy = 0.764</text><text y="13">samples = 9</text><text y="30">value = [7, 2]</text></g>
<g id="n8ah" class="o" transform="translate(1196.6)"><use href="#B"/><text y="-11.5">entropy = 0.0</text><text y="5.5">samples = 1</text><text y="22.5">value = [1, 0]</text></g>
<g id="n8ai" class="r" transform="translate(1213)"><use href="#A"/><text y="-21">x[3] &lt;= 0.5</text><text y="-4">entropy = 0.764</text><text y="13">samples = 9</text><text y="30">value = [7, 2]</text></g>
<g id="n8aj" class="x" transform="translate(1225)"><use href="#B"/><text y="-11.5">entropy = 0.0</text><text y="5.5">samples = 1</text><text y="22.5">value = [0, 1]</text></g>
<g id="n8ak" class="x" transform="translate(1247.5)"><use href="#B"/><text y="-11.5">entropy = 0.0</text><text y="5.5">samples = 1</text><text y="22.5">value = [0, 1]</text></g>
<g id="n8al" class="o" transform="translate(1258.7)"><use href="#B"/><text y="-11.5">entropy = 0.0</text><text y="5.5">samples = 1</text><text y="22.5">value = [1, 0]</text></g>
<g id="n8am" class="w" transform="translate(1270.4)"><use href="#G"/><text y="-21">x[4] &lt;= 0.5</text><text y="-4">entropy = 1.0</text><text y="13">samples = 2</text><text y="30">value = [1, 1]</text></g>
<g id="n8an" class="t" transform="translate(1292.5)"><use href="#A"/><text y="-21">x[5] &lt;= 0.5</text><text y="-4">entropy = 0.918</text><text y="13">samples = 3</text><text y="30">value = [2, 1]</text></g>
<g id="n8ao" class="t" transform="translate(1315)"><use href="#A"/><text y="-21">x[6] &lt;= 0.5</text><text y="-4">entropy = 0.918</text><text y="13">samples = 3</text><text y="30">value = [2, 1]</text></g>
<g id="n8ap" class="u" transform="translate(1338)"><use href="#A"/><text y="-21">x[7] &lt;= 0.5</text><text y="-4">entropy = 0.971</text><text y="13">samples = 5</text><text y="30">value = [3, 2]</text></g>
<g id="n8aq" class="o" transform="translate(1349)"><use href="#B"/><text y="-11.5">entropy = 0.0</text><text y="5.5">samples = 1</text><text y="22.5">value = [1, 0]</text></g>
<g id="n8ar" class="o" transform="translate(1394.6)"><use href="#B"/><text y="-11.5">entropy = 0.0</text><text y="5.5">samples = 1</text><text y="22.5">value = [1, 0]</text></g>
<g id="n8as" class="x" transform="translate(1406)"><use href="#B"/><text y="-11.5">entropy = 0.0</text><text y="5.5">samples = 1</text><text y="22.5">value = [0, 1]</text></g>
</g>
<g id="row7" transform="translate(0,691)">
<g id="n7a" class="n" transform="translate(244)"><use href="#A"/><text y="-21">x[16] &lt;= 0.5</text><text y="-4">entropy = 0.204</text><text y="13">samples = 163</text><text y="30">value = [158, 5]</text></g>
<g id="n7b" class="n" transform="translate(343.5)"><use href="#A"/><text y="-21">x[10] &lt;= 0.5</text><text y="-4">entropy = 0.187</text><text y="13">samples = 246</text><text y="30">value = [237, 9]</text></g>
<g id="n7c" class="q" transform="translate(452.5)"><use href="#A"/><text y="-21">x[3] &lt;= 0.5</text><text y="-4">entropy = 0.592</text><text y="13">samples = 7</text><text y="30">value = [6, 1]</text></g>
<g id="n7d" class="o" transform="translate(464.5)"><use href="#C"/><text y="-11.5">entropy = 0.0</text><text y="5.5">samples = 10</text><text y="22.5">value = [10, 0]</text></g>
<g id="n7e" class="q" transform="translate(513.5)"><use href="#A"/><text y="-21">x[4] &lt;= 0.5</text><text y="-4">entropy = 0.592</text><text y="13">samples = 7</text><text y="30">value = [6, 1]</text></g>
<g id="n7f" class="o" transform="translate(521)"><use href="#B"/><text y="-11.5">entropy = 0.0</text><text y="5.5">samples = 1</text><text y="22.5">value = [1, 0]</text></g>
<g id="n7g" class="o" transform="translate(531.7)"><use href="#B"/><text y="-11.5">entropy = 0.0</text><text y="5.5">samples = 1</text><text y="22.5">value = [1, 0]</text></g>
<g id="n7h" class="n" transform="translate(546)"><use href="#A"/><text y="-21">x[5] &lt;= 0.5</text><text y="-4">entropy = 0.337</text><text y="13">samples = 16</text><text y="30">value = [15, 1]</text></g>
<g id="n7i" class="t" transform="translate(569.5)"><use href="#A"/><text y="-21">x[6] &lt;= 0.5</text><text y="-4">entropy = 0.918</text><text y="13">samples = 3</text><text y="30">value = [2, 1]</text></g>
<g id="n7j" class="q" transform="translate(592)"><use href="#A"/><text y="-21">x[7] &lt;= 0.5</text><text y="-4">entropy = 0.592</text><text y="13">samples = 7</text><text y="30">value = [6, 1]</text></g>
<g id="n7k" class="x" transform="translate(604)"><use href="#B"/><text y="-11.5">entropy = 0.0</text><text y="5.5">samples = 1</text><text y="22.5">value = [0, 1]</text></g>
<g id="n7l" class="q" transform="translate(632)"><use href="#A"/><text y="-21">x[9] &lt;= 0.5</text><text y="-4">entropy = 0.592</text><text y="13">samples = 7</text><text y="30">value = [6, 1]</text></g>
<g id="n7m" class="q" transform="translate(649)"><use href="#A"/><text y="-21">x[27] &lt;= 0.5</text><text y="-4">entropy = 0.592</text><text y="13">samples = 7</text><text y="30">value = [6, 1]</text></g>
<g id="n7n" class="q" transform="translate(707.5)"><use href="#A"/><text y="-21">x[16] &lt;= 0.5</text><text y="-4">entropy = 0.592</text><text y="13">samples = 7</text><text y="30">value = [6, 1]</text></g>
<g id="n7o" class="u" transform="translate(768)"><use href="#A"/><text y="-21">x[11] &lt;= 0.5</text><text y="-4">entropy = 0.971</text><text y="13">samples = 5</text><text y="30">value = [3, 2]</text></g>
<g id="n7p" class="q" transform="translate(813)"><use href="#A"/><text y="-21">x[2] &lt;= 0.5</text><text y="-4">entropy = 0.592</text><text y="13">samples = 7</text><text y="30">value = [6, 1]</text></g>
<g id="n7q" class="q" transform="translate(830)"><use href="#A"/><text y="-21">x[3] &lt;= 0.5</text><text y="-4">entropy = 0.592</text><text y="13">samples = 7</text><text y="30">value = [6, 1]</text></g>
<g id="n7r" class="n" transform="translate(840.5)"><use href="#A"/><text y="-21">x[13] &lt;= 0.5</text><text y="-4">entropy = 0.286</text><text y="13">samples = 60</text><text y="30">value = [57, 3]</text></g>
<g id="n7s" class="n" transform="translate(936)"><use href="#A"/><text y="-21">x[26] &lt;= 0.5</text><text y="-4">entropy = 0.439</text><text y="13">samples = 120</text><text y="30">value = [113, 7]</text></g>
<g id="n7t" class="q" transform="translate(1026)"><use href="#A"/><text y="-21">x[4] &lt;= 0.5</text><text y="-4">entropy = 0.592</text><text y="13">samples = 7</text><text y="30">value = [6, 1]</text></g>
<g id="n7u" class="x" transform="translate(1047)"><use href="#C"/><text y="-11.5">entropy = 0.0</text><text y="5.5">samples = 2</text><text y="22.5">value = [0, 2]</text></g>
<g id="n7v" class="r" transform="translate(1086)"><use href="#A"/><text y="-21">x[5] &lt;= 0.5</text><text y="-4">entropy = 0.764</text><text y="13">samples = 9</text><text y="30">value = [7, 2]</text></g>
<g id="n7w" class="o" transform="translate(1097)"><use href="#B"/><text y="-11.5">entropy = 0.0</text><text y="5.5">samples = 1</text><text y="22.5">value = [1, 0]</text></g>
<g id="n7x" class="q" transform="translate(1122.5)"><use href="#A"/><text y="-21">x[6] &lt;= 0.5</text><text y="-4">entropy = 0.592</text><text y="13">samples = 7</text><text y="30">value = [6, 1]</text></g>
<g id="n7y" class="o" transform="translate(1134)"><use href="#B"/><text y="-11.5">entropy = 0.0</text><text y="5.5">samples = 1</text><text y="22.5">value = [1, 0]</text></g>
<g id="n7z" class="t" transform="translate(1167.5)"><use href="#A"/><text y="-21">x[7] &lt;= 0.5</text><text y="-4">entropy = 0.918</text><text y="13">samples = 3</text><text y="30">value = [2, 1]</text></g>
<g id="n7aa" class="q" transform="translate(1190.5)"><use href="#A"/><text y="-21">x[9] &lt;= 0.5</text><text y="-4">entropy = 0.592</text><text y="13">samples = 7</text><text y="30">value = [6, 1]</text></g>
<g id="n7ab" class="u" transform="translate(1223.5)"><use href="#A"/><text y="-21">x[1] &lt;= 0.5</text><text y="-4">entropy = 0.971</text><text y="13">samples = 5</text><text y="30">value = [3, 2]</text></g>
<g id="n7ac" class="x" transform="translate(1230)"><use href="#B"/><text y="-11.5">entropy = 0.0</text><text y="5.5">samples = 1</text><text y="22.5">value = [0, 1]</text></g>
<g id="n7ad" class="o" transform="translate(1241.6)"><use href="#B"/><text y="-11.5">entropy = 0.0</text><text y="5.5">samples = 1</text><text y="22.5">value = [1, 0]</text></g>
<g id="n7ae" class="w" transform="translate(1253.8)"><use href="#G"/><text y="-21">x[2] &lt;= 0.5</text><text y="-4">entropy = 1.0</text><text y="13">samples = 2</text><text y="30">value = [1, 1]</text></g>
<g id="n7af" class="o" transform="translate(1265)"><use href="#B"/><text y="-11.5">entropy = 0.0</text><text y="5.5">samples = 1</text><text y="22.5">value = [1, 0]</text></g>
<g id="n7ag" class="u" transform="translate(1281)"><use href="#A"/><text y="-21">x[3] &lt;= 0.5</text><text y="-4">entropy = 0.971</text><text y="13">samples = 5</text><text y="30">value = [3, 2]</text></g>
<g id="n7ah" class="q" transform="translate(1309.5)"><use href="#A"/><text y="-21">x[14] &lt;= 0.5</text><text y="-4">entropy = 0.592</text><text y="13">samples = 7</text><text y="30">value = [6, 1]</text></g>
<g id="n7ai" class="t" transform="translate(1343.5)"><use href="#A"/><text y="-21">x[4] &lt;= 0.5</text><text y="-4">entropy = 0.918</text><text y="13">samples = 3</text><text y="30">value = [2, 1]</text></g>
<g id="n7aj" class="x" transform="translate(1355)"><use href="#B"/><text y="-11.5">entropy = 0.0</text><text y="5.5">samples = 1</text><text y="22.5">value = [0, 1]</text></g>
<g id="n7ak" class="x" transform="translate(1366)"><use href="#B"/><text y="-11.5">entropy = 0.0</text><text y="5.5">samples = 1</text><text y="22.5">value = [0, 1]</text></g>
<g id="n7al" class="o" transform="translate(1377.5)"><use href="#B"/><text y="-11.5">entropy = 0.0</text><text y="5.5">samples = 1</text><text y="22.5">value = [1, 0]</text></g>
<g id="n7am" class="t" transform="translate(1400.5)"><use href="#A"/><text y="-21">x[23] &lt;= 0.5</text><text y="-4">entropy = 0.918</text><text y="13">samples = 3</text><text y="30">value = [2, 1]</text></g>
</g>
<g id="row6" transform="translate(0,624)">
<g id="n6a" class="n" transform="translate(294)"><use href="#D"/><text y="-21">x[2] &lt;= 0.5</text><text y="-4">entropy = 0.215</text><text y="13">samples = 409</text><text y="30">value = [395, 14]</text></g>
<g id="n6b" class="n" transform="translate(458)"><use href="#A"/><text y="-21">x[3] &lt;= 0.5</text><text y="-4">entropy = 0.286</text><text y="13">samples = 40</text><text y="30">value = [38, 2]</text></g>
<g id="n6c" class="o" transform="translate(498.5)"><use href="#B"/><text y="-11.5">entropy = 0.0</text><text y="5.5">samples = 1</text><text y="22.5">value = [1, 0]</text></g>
<g id="n6d" class="q" transform="translate(519.5)"><use href="#A"/><text y="-21">x[4] &lt;= 0.5</text><text y="-4">entropy = 0.592</text><text y="13">samples = 7</text><text y="30">value = [6, 1]</text></g>
<g id="n6e" class="q" transform="translate(535.5)"><use href="#A"/><text y="-21">x[5] &lt;= 0.5</text><text y="-4">entropy = 0.592</text><text y="13">samples = 7</text><text y="30">value = [6, 1]</text></g>
<g id="n6f" class="n" transform="translate(541)"><use href="#A"/><text y="-21">x[6] &lt;= 0.5</text><text y="-4">entropy = 0.337</text><text y="13">samples = 16</text><text y="30">value = [15, 1]</text></g>
<g id="n6g" class="q" transform="translate(562.5)"><use href="#A"/><text y="-21">x[7] &lt;= 0.5</text><text y="-4">entropy = 0.592</text><text y="13">samples = 7</text><text y="30">value = [6, 1]</text></g>
<g id="n6h" class="q" transform="translate(569)"><use href="#A"/><text y="-21">x[9] &lt;= 0.5</text><text y="-4">entropy = 0.592</text><text y="13">samples = 7</text><text y="30">value = [6, 1]</text></g>
<g id="n6i" class="r" transform="translate(598)"><use href="#A"/><text y="-21">x[1] &lt;= 0.5</text><text y="-4">entropy = 0.764</text><text y="13">samples = 9</text><text y="30">value = [7, 2]</text></g>
<g id="n6j" class="x" transform="translate(610)"><use href="#B"/><text y="-11.5">entropy = 0.0</text><text y="5.5">samples = 1</text><text y="22.5">value = [0, 1]</text></g>
<g id="n6k" class="q" transform="translate(632)"><use href="#A"/><text y="-21">x[0] &lt;= 0.5</text><text y="-4">entropy = 0.592</text><text y="13">samples = 7</text><text y="30">value = [6, 1]</text></g>
<g id="n6l" class="m" transform="translate(676.3)"><use href="#A"/><text y="-21">x[25] &lt;= 0.5</text><text y="-4">entropy = 0.496</text><text y="13">samples = 73</text><text y="30">value = [65, 8]</text></g>
<g id="n6m" class="r" transform="translate(788)"><use href="#A"/><text y="-21">x[25] &lt;= 0.5</text><text y="-4">entropy = 0.863</text><text y="13">samples = 14</text><text y="30">value = [10, 4]</text></g>
<g id="n6n" class="m" transform="translate(884)"><use href="#D"/><text y="-21">x[2] &lt;= 0.5</text><text y="-4">entropy = 0.31</text><text y="13">samples = 180</text><text y="30">value = [170, 10]</text></g>
<g id="n6o" class="n" transform="translate(1031.5)"><use href="#A"/><text y="-21">x[9] &lt;= 0.5</text><text y="-4">entropy = 0.337</text><text y="13">samples = 16</text><text y="30">value = [15, 1]</text></g>
<g id="n6p" class="o" transform="translate(1076)"><use href="#B"/><text y="-11.5">entropy = 0.0</text><text y="5.5">samples = 1</text><text y="22.5">value = [1, 0]</text></g>
<g id="n6q" class="q" transform="translate(1091.5)"><use href="#A"/><text y="-21">x[2] &lt;= 0.5</text><text y="-4">entropy = 0.592</text><text y="13">samples = 7</text><text y="30">value = [6, 1]</text></g>
<g id="n6r" class="q" transform="translate(1128)"><use href="#A"/><text y="-21">x[3] &lt;= 0.5</text><text y="-4">entropy = 0.592</text><text y="13">samples = 7</text><text y="30">value = [6, 1]</text></g>
<g id="n6s" class="o" transform="translate(1141)"><use href="#B"/><text y="-11.5">entropy = 0.0</text><text y="5.5">samples = 1</text><text y="22.5">value = [1, 0]</text></g>
<g id="n6t" class="o" transform="translate(1147)"><use href="#B"/><text y="-11.5">entropy = 0.0</text><text y="5.5">samples = 1</text><text y="22.5">value = [1, 0]</text></g>
<g id="n6u" class="q" transform="translate(1162.5)"><use href="#A"/><text y="-21">x[24] &lt;= 0.5</text><text y="-4">entropy = 0.592</text><text y="13">samples = 7</text><text y="30">value = [6, 1]</text></g>
<g id="n6v" class="t" transform="translate(1204.5)"><use href="#A"/><text y="-21">x[4] &lt;= 0.5</text><text y="-4">entropy = 0.918</text><text y="13">samples = 3</text><text y="30">value = [2, 1]</text></g>
<g id="n6w" class="y" transform="translate(1236.5)"><use href="#A"/><text y="-21">x[5] &lt;= 0.5</text><text y="-4">entropy = 0.918</text><text y="13">samples = 3</text><text y="30">value = [1, 2]</text></g>
<g id="n6x" class="o" transform="translate(1243)"><use href="#B"/><text y="-11.5">entropy = 0.0</text><text y="5.5">samples = 1</text><text y="22.5">value = [1, 0]</text></g>
<g id="n6y" class="r" transform="translate(1258.5)"><use href="#A"/><text y="-21">x[6] &lt;= 0.5</text><text y="-4">entropy = 0.764</text><text y="13">samples = 9</text><text y="30">value = [7, 2]</text></g>
<g id="n6z" class="q" transform="translate(1295.5)"><use href="#A"/><text y="-21">x[7] &lt;= 0.5</text><text y="-4">entropy = 0.592</text><text y="13">samples = 7</text><text y="30">value = [6, 1]</text></g>
<g id="n6aa" class="x" transform="translate(1307)"><use href="#B"/><text y="-11.5">entropy = 0.0</text><text y="5.5">samples = 1</text><text y="22.5">value = [0, 1]</text></g>
<g id="n6ab" class="w" transform="translate(1349.6)"><use href="#G"/><text y="-21">x[9] &lt;= 0.5</text><text y="-4">entropy = 1.0</text><text y="13">samples = 2</text><text y="30">value = [1, 1]</text></g>
<g id="n6ac" class="q" transform="translate(1371.5)"><use href="#A"/><text y="-21">x[1] &lt;= 0.5</text><text y="-4">entropy = 0.592</text><text y="13">samples = 7</text><text y="30">value = [6, 1]</text></g>
<g id="n6ad" class="q" transform="translate(1394.5)"><use href="#A"/><text y="-21">x[2] &lt;= 0.5</text><text y="-4">entropy = 0.544</text><text y="13">samples = 8</text><text y="30">value = [7, 1]</text></g>
<g id="n6ae" class="x" transform="translate(1406)"><use href="#B"/><text y="-11.5">entropy = 0.0</text><text y="5.5">samples = 1</text><text y="22.5">value = [0, 1]</text></g>
</g>
<g id="row5" transform="translate(0,557)">
<g id="n5a" class="n" transform="translate(376)"><use href="#D"/><text y="-21">x[28] &lt;= 0.5</text><text y="-4">entropy = 0.174</text><text y="13">samples = 732</text><text y="30">value = [713, 19]</text></g>
<g id="n5b" class="n" transform="translate(513.5)"><use href="#A"/><text y="-21">x[3] &lt;= 0.5</text><text y="-4">entropy = 0.337</text><text y="13">samples = 16</text><text y="30">value = [15, 1]</text></g>
<g id="n5c" class="o" transform="translate(516)"><use href="#B"/><text y="-11.5">entropy = 0.0</text><text y="5.5">samples = 1</text><text y="22.5">value = [1, 0]</text></g>
<g id="n5d" class="n" transform="translate(536.5)"><use href="#A"/><text y="-21">x[4] &lt;= 0.5</text><text y="-4">entropy = 0.337</text><text y="13">samples = 16</text><text y="30">value = [15, 1]</text></g>
<g id="n5e" class="n" transform="translate(552.5)"><use href="#A"/><text y="-21">x[5] &lt;= 0.5</text><text y="-4">entropy = 0.337</text><text y="13">samples = 16</text><text y="30">value = [15, 1]</text></g>
<g id="n5f" class="n" transform="translate(558.5)"><use href="#A"/><text y="-21">x[14] &lt;= 0.5</text><text y="-4">entropy = 0.337</text><text y="13">samples = 16</text><text y="30">value = [15, 1]</text></g>
<g id="n5g" class="t" transform="translate(604.5)"><use href="#A"/><text y="-21">x[6] &lt;= 0.5</text><text y="-4">entropy = 0.918</text><text y="13">samples = 3</text><text y="30">value = [2, 1]</text></g>
<g id="n5h" class="n" transform="translate(627)"><use href="#A"/><text y="-21">x[17] &lt;= 0.5</text><text y="-4">entropy = 0.337</text><text y="13">samples = 16</text><text y="30">value = [15, 1]</text></g>
<g id="n5i" class="q" transform="translate(732.5)"><use href="#A"/><text y="-21">x[26] &lt;= 0.5</text><text y="-4">entropy = 0.579</text><text y="13">samples = 87</text><text y="30">value = [75, 12]</text></g>
<g id="n5j" class="m" transform="translate(958)"><use href="#D"/><text y="-21">x[23] &lt;= 0.5</text><text y="-4">entropy = 0.373</text><text y="13">samples = 236</text><text y="30">value = [219, 17]</text></g>
<g id="n5k" class="o" transform="translate(1080)"><use href="#C"/><text y="-11.5">entropy = 0.0</text><text y="5.5">samples = 12</text><text y="22.5">value = [12, 0]</text></g>
<g id="n5l" class="q" transform="translate(1085.5)"><use href="#A"/><text y="-21">x[28] &lt;= 0.5</text><text y="-4">entropy = 0.592</text><text y="13">samples = 7</text><text y="30">value = [6, 1]</text></g>
<g id="n5m" class="q" transform="translate(1134.5)"><use href="#A"/><text y="-21">x[7] &lt;= 0.5</text><text y="-4">entropy = 0.592</text><text y="13">samples = 7</text><text y="30">value = [6, 1]</text></g>
<g id="n5n" class="n" transform="translate(1156.5)"><use href="#A"/><text y="-21">x[21] &lt;= 0.5</text><text y="-4">entropy = 0.337</text><text y="13">samples = 16</text><text y="30">value = [15, 1]</text></g>
<g id="n5o" class="t" transform="translate(1220.5)"><use href="#A"/><text y="-21">x[1] &lt;= 0.5</text><text y="-4">entropy = 0.918</text><text y="13">samples = 3</text><text y="30">value = [2, 1]</text></g>
<g id="n5p" class="o" transform="translate(1227)"><use href="#B"/><text y="-11.5">entropy = 0.0</text><text y="5.5">samples = 1</text><text y="22.5">value = [1, 0]</text></g>
<g id="n5q" class="n" transform="translate(1252.5)"><use href="#A"/><text y="-21">x[9] &lt;= 0.5</text><text y="-4">entropy = 0.337</text><text y="13">samples = 16</text><text y="30">value = [15, 1]</text></g>
<g id="n5r" class="t" transform="translate(1301)"><use href="#A"/><text y="-21">x[20] &lt;= 0.5</text><text y="-4">entropy = 0.918</text><text y="13">samples = 3</text><text y="30">value = [2, 1]</text></g>
<g id="n5s" class="x" transform="translate(1349)"><use href="#B"/><text y="-11.5">entropy = 0.0</text><text y="5.5">samples = 1</text><text y="22.5">value = [0, 1]</text></g>
<g id="n5t" class="u" transform="translate(1360.5)"><use href="#A"/><text y="-21">x[24] &lt;= 0.5</text><text y="-4">entropy = 0.971</text><text y="13">samples = 5</text><text y="30">value = [3, 2]</text></g>
<g id="n5u" class="r" transform="translate(1400.5)"><use href="#A"/><text y="-21">x[0] &lt;= 0.5</text><text y="-4">entropy = 0.764</text><text y="13">samples = 9</text><text y="30">value = [7, 2]</text></g>
</g>
<g id="row4" transform="translate(0,490)">
<g id="n4a" class="n" transform="translate(445)"><use href="#D"/><text y="-21">x[11] &lt;= 0.5</text><text y="-4">entropy = 0.162</text><text y="13">samples = 892</text><text y="30">value = [871, 21]</text></g>
<g id="n4b" class="n" transform="translate(530.5)"><use href="#A"/><text y="-21">x[3] &lt;= 0.5</text><text y="-4">entropy = 0.054</text><text y="13">samples = 247</text><text y="30">value = [247, 1]</text></g>
<g id="n4c" class="n" transform="translate(553)"><use href="#A"/><text y="-21">x[0] &lt;= 0.5</text><text y="-4">entropy = 0.286</text><text y="13">samples = 55</text><text y="30">value = [54, 1]</text></g>
<g id="n4d" class="q" transform="translate(615.5)"><use href="#A"/><text y="-21">x[2] &lt;= 0.5</text><text y="-4">entropy = 0.634</text><text y="13">samples = 25</text><text y="30">value = [21, 4]</text></g>
<g id="n4e" class="m" transform="translate(845)"><use href="#D"/><text y="-21">x[19] &lt;= 0.5</text><text y="-4">entropy = 0.436</text><text y="13">samples = 323</text><text y="30">value = [294, 29]</text></g>
<g id="n4f" class="n" transform="translate(1080)"><use href="#A"/><text y="-21">x[13] &lt;= 0.5</text><text y="-4">entropy = 0.201</text><text y="13">samples = 67</text><text y="30">value = [65, 2]</text></g>
<g id="n4g" class="m" transform="translate(1144.5)"><use href="#A"/><text y="-21">x[25] &lt;= 0.5</text><text y="-4">entropy = 0.549</text><text y="13">samples = 71</text><text y="30">value = [62, 9]</text></g>
<g id="n4h" class="s" transform="translate(1226.5)"><use href="#A"/><text y="-21">x[21] &lt;= 0.5</text><text y="-4">entropy = 0.822</text><text y="13">samples = 35</text><text y="30">value = [26, 9]</text></g>
<g id="n4i" class="m" transform="translate(1276.5)"><use href="#A"/><text y="-21">x[3] &lt;= 0.5</text><text y="-4">entropy = 0.503</text><text y="13">samples = 55</text><text y="30">value = [49, 6]</text></g>
<g id="n4j" class="z" transform="translate(1354.5)"><use href="#A"/><text y="-21">x[12] &lt;= 0.5</text><text y="-4">entropy = 0.996</text><text y="13">samples = 13</text><text y="30">value = [7, 6]</text></g>
<g id="n4k" class="q" transform="translate(1394.5)"><use href="#A"/><text y="-21">x[19] &lt;= 0.5</text><text y="-4">entropy = 0.592</text><text y="13">samples = 14</text><text y="30">value = [12, 2]</text></g>
</g>
<g id="row3" transform="translate(0,423)">
<g id="n3a" class="n" transform="translate(487.5)"><use href="#E"/><text y="-21">x[23] &lt;= 0.5</text><text y="-4">entropy = 0.134</text><text y="13">samples = 1139</text><text y="30">value = [1118, 21]</text></g>
<g id="n3b" class="m" transform="translate(584.5)"><use href="#A"/><text y="-21">x[29] &lt;= 0.5</text><text y="-4">entropy = 0.337</text><text y="13">samples = 80</text><text y="30">value = [75, 5]</text></g>
<g id="n3c" class="m" transform="translate(963)"><use href="#D"/><text y="-21">x[18] &lt;= 0.5</text><text y="-4">entropy = 0.4</text><text y="13">samples = 390</text><text y="30">value = [359, 31]</text></g>
<g id="n3d" class="m" transform="translate(1185.5)"><use href="#A"/><text y="-21">x[14] &lt;= 0.5</text><text y="-4">entropy = 0.625</text><text y="13">samples = 109</text><text y="30">value = [92, 17]</text></g>
<g id="n3e" class="t" transform="translate(1315.5)"><use href="#A"/><text y="-21">x[24] &lt;= 0.5</text><text y="-4">entropy = 0.9</text><text y="13">samples = 61</text><text y="30">value = [42, 19]</text></g>
<g id="n3f" class="n" transform="translate(1388.5)"><use href="#A"/><text y="-21">x[2] &lt;= 0.5</text><text y="-4">entropy = 0.297</text><text y="13">samples = 38</text><text y="30">value = [36, 2]</text></g>
</g>
<g id="row2" transform="translate(0,356)">
<g id="n2a" class="o" transform="translate(530)"><use href="#H"/><text y="-11.5">entropy = 0.0</text><text y="5.5">samples = 637</text><text y="22.5">value = [637, 0]</text></g>
<g id="n2b" class="n" transform="translate(535.5)"><use href="#E"/><text y="-21">x[21] &lt;= 0.5</text><text y="-4">entropy = 0.149</text><text y="13">samples = 1219</text><text y="30">value = [1193, 26]</text></g>
<g id="n2c" class="m" transform="translate(1074)"><use href="#D"/><text y="-21">x[0] &lt;= 0.5</text><text y="-4">entropy = 0.457</text><text y="13">samples = 499</text><text y="30">value = [451, 48]</text></g>
<g id="n2d" class="r" transform="translate(1352)"><use href="#A"/><text y="-21">x[14] &lt;= 0.5</text><text y="-4">entropy = 0.746</text><text y="13">samples = 99</text><text y="30">value = [78, 21]</text></g>
</g>
<g id="row1" transform="translate(0,289)">
<g id="n1a" class="n" transform="translate(530)"><use href="#E"/><text y="-21">x[7] &lt;= 0.5</text><text y="-4">entropy = 0.106</text><text y="13">samples = 1856</text><text y="30">value = [1830, 26]</text></g>
<g id="n1b" class="m" transform="translate(1213)"><use href="#D"/><text y="-21">x[1] &lt;= 0.5</text><text y="-4">entropy = 0.516</text><text y="13">samples = 598</text><text y="30">value = [529, 69]</text></g>
</g>
<g id="row0" transform="translate(0,222)">
<g id="n0" class="n" transform="translate(871.5)"><use href="#E"/><text y="-21">x[8] &lt;= 0.5</text><text y="-4">entropy = 0.236</text><text y="13">samples = 2454</text><text y="30">value = [2359, 95]</text></g>
</g>
<g id="connectors">
<line class="c" x1="795" y1="237" x2="610" y2="272" marker-end="url(#h)"/>
<line class="c" x1="948" y1="237" x2="1139" y2="274" marker-end="url(#h)"/>
</g>
</g>
</svg>
